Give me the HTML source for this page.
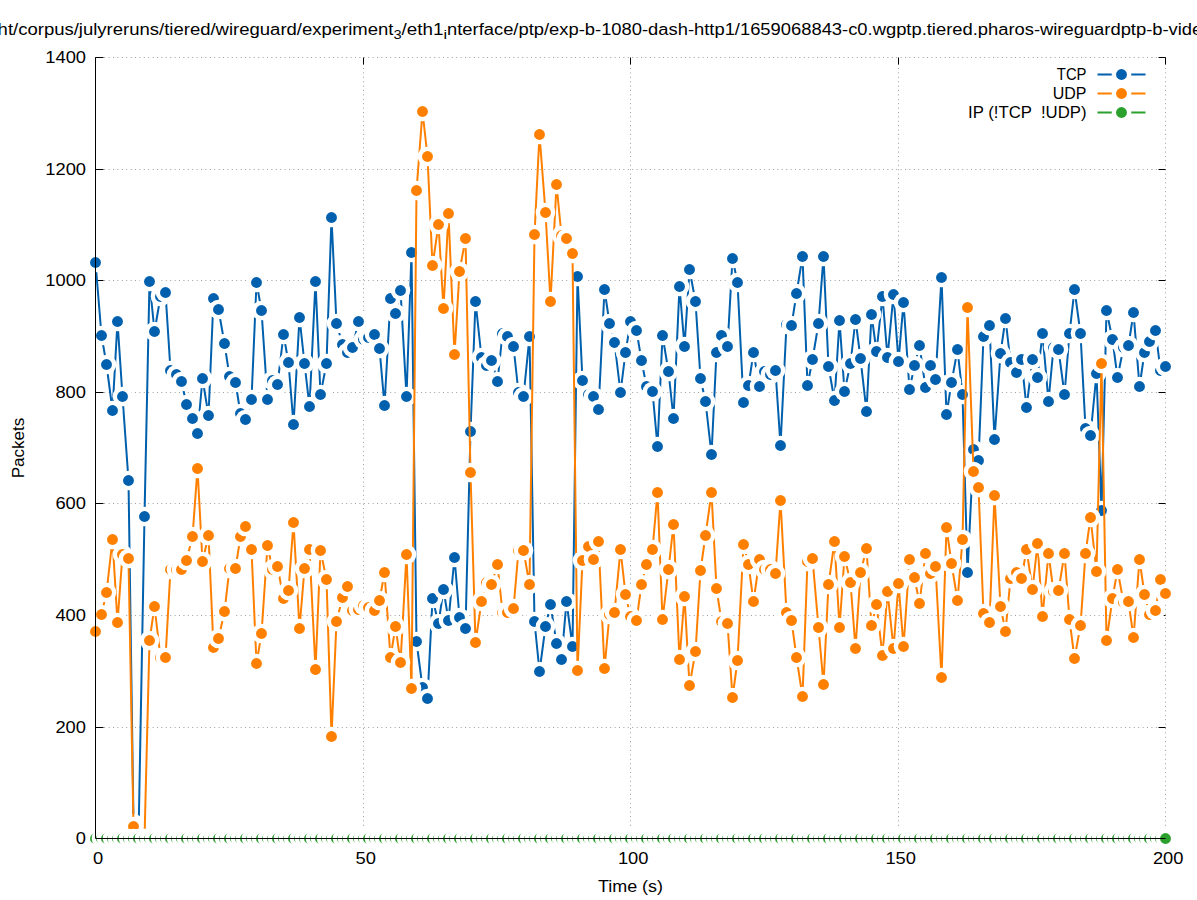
<!DOCTYPE html><html><head><meta charset="utf-8"><style>html,body{margin:0;padding:0;background:#fff;overflow:hidden}svg{display:block}</style></head><body><svg width="1197" height="900" viewBox="0 0 1197 900"><rect width="1197" height="900" fill="#fff"/><path d="M95.5 727.5H1165.5M95.5 615.5H1165.5M95.5 503.5H1165.5M95.5 392.5H1165.5M95.5 280.5H1165.5M95.5 169.5H1165.5M95.5 57.5H1165.5" stroke="#a0a0a0" stroke-width="1" stroke-dasharray="1 3.4" stroke-dashoffset="0.1" fill="none"/><path d="M363.5 838.5V57.5M630.5 838.5V57.5M898.5 838.5V57.5M1165.5 838.5V57.5" stroke="#a0a0a0" stroke-width="1" stroke-dasharray="1 3.4" stroke-dashoffset="0.5" fill="none"/><path d="M95.5 838.5h8M1165.5 838.5h-7M95.5 727.5h8M1165.5 727.5h-7M95.5 615.5h8M1165.5 615.5h-7M95.5 503.5h8M1165.5 503.5h-7M95.5 392.5h8M1165.5 392.5h-7M95.5 280.5h8M1165.5 280.5h-7M95.5 169.5h8M1165.5 169.5h-7M95.5 57.5h8M1165.5 57.5h-7M95.5 838.5v-8M95.5 57.5v7M363.5 838.5v-8M363.5 57.5v7M630.5 838.5v-8M630.5 57.5v7M898.5 838.5v-8M898.5 57.5v7M1165.5 838.5v-8M1165.5 57.5v7" stroke="#000" stroke-width="1" fill="none"/><polyline points="95.5,262.5 101.5,335.5 106.5,364.5 112.5,410.5 117.5,321.5 122.5,396.5 128.5,480.5 133.5,823.5 138.5,838.5 144.5,516.5 149.5,281.5 154.5,331.5 160.5,296.5 165.5,292.5 170.5,370.5 176.5,374.5 181.5,381.5 186.5,404.5 192.5,418.5 197.5,433.5 202.5,378.5 208.5,415.5 213.5,298.5 218.5,309.5 224.5,343.5 229.5,376.5 235.5,382.5 240.5,413.5 245.5,419.5 251.5,399.5 256.5,282.5 261.5,310.5 267.5,399.5 272.5,380.5 277.5,384.5 283.5,334.5 288.5,362.5 293.5,424.5 299.5,317.5 304.5,363.5 309.5,406.5 315.5,281.5 320.5,394.5 326.5,363.5 331.5,217.5 336.5,323.5 342.5,344.5 347.5,352.5 352.5,347.5 358.5,321.5 363.5,339.5 368.5,337.5 374.5,334.5 379.5,348.5 384.5,405.5 390.5,298.5 395.5,313.5 400.5,290.5 406.5,396.5 411.5,252.5 416.5,641.5 422.5,687.5 427.5,698.5 432.5,598.5 438.5,623.5 443.5,589.5 448.5,620.5 454.5,557.5 459.5,617.5 465.5,628.5 470.5,431.5 475.5,301.5 481.5,357.5 486.5,365.5 491.5,360.5 497.5,381.5 502.5,333.5 507.5,336.5 513.5,346.5 518.5,392.5 523.5,396.5 529.5,336.5 534.5,621.5 539.5,671.5 545.5,626.5 550.5,604.5 556.5,643.5 561.5,659.5 566.5,601.5 572.5,646.5 577.5,276.5 582.5,380.5 588.5,394.5 593.5,396.5 598.5,409.5 604.5,289.5 609.5,323.5 614.5,342.5 620.5,392.5 625.5,352.5 630.5,321.5 636.5,330.5 641.5,360.5 646.5,386.5 652.5,391.5 657.5,446.5 662.5,335.5 668.5,371.5 673.5,418.5 679.5,286.5 684.5,346.5 689.5,269.5 695.5,301.5 700.5,378.5 705.5,401.5 711.5,454.5 716.5,352.5 721.5,335.5 727.5,346.5 732.5,258.5 737.5,282.5 743.5,402.5 748.5,385.5 753.5,352.5 759.5,386.5 764.5,371.5 770.5,374.5 775.5,370.5 780.5,445.5 786.5,324.5 791.5,325.5 796.5,293.5 802.5,256.5 807.5,385.5 812.5,359.5 818.5,323.5 823.5,256.5 828.5,366.5 834.5,400.5 839.5,320.5 844.5,391.5 850.5,363.5 855.5,319.5 860.5,358.5 866.5,411.5 871.5,314.5 876.5,351.5 882.5,296.5 887.5,357.5 893.5,294.5 898.5,361.5 903.5,302.5 909.5,389.5 914.5,365.5 919.5,345.5 925.5,387.5 930.5,365.5 935.5,379.5 941.5,277.5 946.5,414.5 951.5,382.5 957.5,349.5 962.5,394.5 967.5,572.5 973.5,449.5 978.5,460.5 983.5,336.5 989.5,325.5 994.5,439.5 1000.5,353.5 1005.5,318.5 1010.5,362.5 1016.5,372.5 1021.5,359.5 1026.5,407.5 1032.5,359.5 1037.5,377.5 1042.5,333.5 1048.5,401.5 1053.5,347.5 1058.5,349.5 1064.5,394.5 1069.5,333.5 1074.5,289.5 1080.5,333.5 1085.5,428.5 1090.5,435.5 1096.5,373.5 1101.5,510.5 1106.5,310.5 1112.5,339.5 1117.5,377.5 1123.5,347.5 1128.5,345.5 1133.5,312.5 1139.5,386.5 1144.5,352.5 1149.5,341.5 1155.5,330.5 1160.5,370.5 1165.5,366.5" fill="none" stroke="#0060ad" stroke-width="2" stroke-linejoin="round"/><circle cx="95.5" cy="262.5" r="9.8" fill="#fff"/><circle cx="95.5" cy="262.5" r="5.45" fill="#0060ad"/><circle cx="101.5" cy="335.5" r="9.8" fill="#fff"/><circle cx="101.5" cy="335.5" r="5.45" fill="#0060ad"/><circle cx="106.5" cy="364.5" r="9.8" fill="#fff"/><circle cx="106.5" cy="364.5" r="5.45" fill="#0060ad"/><circle cx="112.5" cy="410.5" r="9.8" fill="#fff"/><circle cx="112.5" cy="410.5" r="5.45" fill="#0060ad"/><circle cx="117.5" cy="321.5" r="9.8" fill="#fff"/><circle cx="117.5" cy="321.5" r="5.45" fill="#0060ad"/><circle cx="122.5" cy="396.5" r="9.8" fill="#fff"/><circle cx="122.5" cy="396.5" r="5.45" fill="#0060ad"/><circle cx="128.5" cy="480.5" r="9.8" fill="#fff"/><circle cx="128.5" cy="480.5" r="5.45" fill="#0060ad"/><circle cx="133.5" cy="823.5" r="9.8" fill="#fff"/><circle cx="133.5" cy="823.5" r="5.45" fill="#0060ad"/><circle cx="138.5" cy="838.5" r="9.8" fill="#fff"/><circle cx="138.5" cy="838.5" r="5.45" fill="#0060ad"/><circle cx="144.5" cy="516.5" r="9.8" fill="#fff"/><circle cx="144.5" cy="516.5" r="5.45" fill="#0060ad"/><circle cx="149.5" cy="281.5" r="9.8" fill="#fff"/><circle cx="149.5" cy="281.5" r="5.45" fill="#0060ad"/><circle cx="154.5" cy="331.5" r="9.8" fill="#fff"/><circle cx="154.5" cy="331.5" r="5.45" fill="#0060ad"/><circle cx="160.5" cy="296.5" r="9.8" fill="#fff"/><circle cx="160.5" cy="296.5" r="5.45" fill="#0060ad"/><circle cx="165.5" cy="292.5" r="9.8" fill="#fff"/><circle cx="165.5" cy="292.5" r="5.45" fill="#0060ad"/><circle cx="170.5" cy="370.5" r="9.8" fill="#fff"/><circle cx="170.5" cy="370.5" r="5.45" fill="#0060ad"/><circle cx="176.5" cy="374.5" r="9.8" fill="#fff"/><circle cx="176.5" cy="374.5" r="5.45" fill="#0060ad"/><circle cx="181.5" cy="381.5" r="9.8" fill="#fff"/><circle cx="181.5" cy="381.5" r="5.45" fill="#0060ad"/><circle cx="186.5" cy="404.5" r="9.8" fill="#fff"/><circle cx="186.5" cy="404.5" r="5.45" fill="#0060ad"/><circle cx="192.5" cy="418.5" r="9.8" fill="#fff"/><circle cx="192.5" cy="418.5" r="5.45" fill="#0060ad"/><circle cx="197.5" cy="433.5" r="9.8" fill="#fff"/><circle cx="197.5" cy="433.5" r="5.45" fill="#0060ad"/><circle cx="202.5" cy="378.5" r="9.8" fill="#fff"/><circle cx="202.5" cy="378.5" r="5.45" fill="#0060ad"/><circle cx="208.5" cy="415.5" r="9.8" fill="#fff"/><circle cx="208.5" cy="415.5" r="5.45" fill="#0060ad"/><circle cx="213.5" cy="298.5" r="9.8" fill="#fff"/><circle cx="213.5" cy="298.5" r="5.45" fill="#0060ad"/><circle cx="218.5" cy="309.5" r="9.8" fill="#fff"/><circle cx="218.5" cy="309.5" r="5.45" fill="#0060ad"/><circle cx="224.5" cy="343.5" r="9.8" fill="#fff"/><circle cx="224.5" cy="343.5" r="5.45" fill="#0060ad"/><circle cx="229.5" cy="376.5" r="9.8" fill="#fff"/><circle cx="229.5" cy="376.5" r="5.45" fill="#0060ad"/><circle cx="235.5" cy="382.5" r="9.8" fill="#fff"/><circle cx="235.5" cy="382.5" r="5.45" fill="#0060ad"/><circle cx="240.5" cy="413.5" r="9.8" fill="#fff"/><circle cx="240.5" cy="413.5" r="5.45" fill="#0060ad"/><circle cx="245.5" cy="419.5" r="9.8" fill="#fff"/><circle cx="245.5" cy="419.5" r="5.45" fill="#0060ad"/><circle cx="251.5" cy="399.5" r="9.8" fill="#fff"/><circle cx="251.5" cy="399.5" r="5.45" fill="#0060ad"/><circle cx="256.5" cy="282.5" r="9.8" fill="#fff"/><circle cx="256.5" cy="282.5" r="5.45" fill="#0060ad"/><circle cx="261.5" cy="310.5" r="9.8" fill="#fff"/><circle cx="261.5" cy="310.5" r="5.45" fill="#0060ad"/><circle cx="267.5" cy="399.5" r="9.8" fill="#fff"/><circle cx="267.5" cy="399.5" r="5.45" fill="#0060ad"/><circle cx="272.5" cy="380.5" r="9.8" fill="#fff"/><circle cx="272.5" cy="380.5" r="5.45" fill="#0060ad"/><circle cx="277.5" cy="384.5" r="9.8" fill="#fff"/><circle cx="277.5" cy="384.5" r="5.45" fill="#0060ad"/><circle cx="283.5" cy="334.5" r="9.8" fill="#fff"/><circle cx="283.5" cy="334.5" r="5.45" fill="#0060ad"/><circle cx="288.5" cy="362.5" r="9.8" fill="#fff"/><circle cx="288.5" cy="362.5" r="5.45" fill="#0060ad"/><circle cx="293.5" cy="424.5" r="9.8" fill="#fff"/><circle cx="293.5" cy="424.5" r="5.45" fill="#0060ad"/><circle cx="299.5" cy="317.5" r="9.8" fill="#fff"/><circle cx="299.5" cy="317.5" r="5.45" fill="#0060ad"/><circle cx="304.5" cy="363.5" r="9.8" fill="#fff"/><circle cx="304.5" cy="363.5" r="5.45" fill="#0060ad"/><circle cx="309.5" cy="406.5" r="9.8" fill="#fff"/><circle cx="309.5" cy="406.5" r="5.45" fill="#0060ad"/><circle cx="315.5" cy="281.5" r="9.8" fill="#fff"/><circle cx="315.5" cy="281.5" r="5.45" fill="#0060ad"/><circle cx="320.5" cy="394.5" r="9.8" fill="#fff"/><circle cx="320.5" cy="394.5" r="5.45" fill="#0060ad"/><circle cx="326.5" cy="363.5" r="9.8" fill="#fff"/><circle cx="326.5" cy="363.5" r="5.45" fill="#0060ad"/><circle cx="331.5" cy="217.5" r="9.8" fill="#fff"/><circle cx="331.5" cy="217.5" r="5.45" fill="#0060ad"/><circle cx="336.5" cy="323.5" r="9.8" fill="#fff"/><circle cx="336.5" cy="323.5" r="5.45" fill="#0060ad"/><circle cx="342.5" cy="344.5" r="9.8" fill="#fff"/><circle cx="342.5" cy="344.5" r="5.45" fill="#0060ad"/><circle cx="347.5" cy="352.5" r="9.8" fill="#fff"/><circle cx="347.5" cy="352.5" r="5.45" fill="#0060ad"/><circle cx="352.5" cy="347.5" r="9.8" fill="#fff"/><circle cx="352.5" cy="347.5" r="5.45" fill="#0060ad"/><circle cx="358.5" cy="321.5" r="9.8" fill="#fff"/><circle cx="358.5" cy="321.5" r="5.45" fill="#0060ad"/><circle cx="363.5" cy="339.5" r="9.8" fill="#fff"/><circle cx="363.5" cy="339.5" r="5.45" fill="#0060ad"/><circle cx="368.5" cy="337.5" r="9.8" fill="#fff"/><circle cx="368.5" cy="337.5" r="5.45" fill="#0060ad"/><circle cx="374.5" cy="334.5" r="9.8" fill="#fff"/><circle cx="374.5" cy="334.5" r="5.45" fill="#0060ad"/><circle cx="379.5" cy="348.5" r="9.8" fill="#fff"/><circle cx="379.5" cy="348.5" r="5.45" fill="#0060ad"/><circle cx="384.5" cy="405.5" r="9.8" fill="#fff"/><circle cx="384.5" cy="405.5" r="5.45" fill="#0060ad"/><circle cx="390.5" cy="298.5" r="9.8" fill="#fff"/><circle cx="390.5" cy="298.5" r="5.45" fill="#0060ad"/><circle cx="395.5" cy="313.5" r="9.8" fill="#fff"/><circle cx="395.5" cy="313.5" r="5.45" fill="#0060ad"/><circle cx="400.5" cy="290.5" r="9.8" fill="#fff"/><circle cx="400.5" cy="290.5" r="5.45" fill="#0060ad"/><circle cx="406.5" cy="396.5" r="9.8" fill="#fff"/><circle cx="406.5" cy="396.5" r="5.45" fill="#0060ad"/><circle cx="411.5" cy="252.5" r="9.8" fill="#fff"/><circle cx="411.5" cy="252.5" r="5.45" fill="#0060ad"/><circle cx="416.5" cy="641.5" r="9.8" fill="#fff"/><circle cx="416.5" cy="641.5" r="5.45" fill="#0060ad"/><circle cx="422.5" cy="687.5" r="9.8" fill="#fff"/><circle cx="422.5" cy="687.5" r="5.45" fill="#0060ad"/><circle cx="427.5" cy="698.5" r="9.8" fill="#fff"/><circle cx="427.5" cy="698.5" r="5.45" fill="#0060ad"/><circle cx="432.5" cy="598.5" r="9.8" fill="#fff"/><circle cx="432.5" cy="598.5" r="5.45" fill="#0060ad"/><circle cx="438.5" cy="623.5" r="9.8" fill="#fff"/><circle cx="438.5" cy="623.5" r="5.45" fill="#0060ad"/><circle cx="443.5" cy="589.5" r="9.8" fill="#fff"/><circle cx="443.5" cy="589.5" r="5.45" fill="#0060ad"/><circle cx="448.5" cy="620.5" r="9.8" fill="#fff"/><circle cx="448.5" cy="620.5" r="5.45" fill="#0060ad"/><circle cx="454.5" cy="557.5" r="9.8" fill="#fff"/><circle cx="454.5" cy="557.5" r="5.45" fill="#0060ad"/><circle cx="459.5" cy="617.5" r="9.8" fill="#fff"/><circle cx="459.5" cy="617.5" r="5.45" fill="#0060ad"/><circle cx="465.5" cy="628.5" r="9.8" fill="#fff"/><circle cx="465.5" cy="628.5" r="5.45" fill="#0060ad"/><circle cx="470.5" cy="431.5" r="9.8" fill="#fff"/><circle cx="470.5" cy="431.5" r="5.45" fill="#0060ad"/><circle cx="475.5" cy="301.5" r="9.8" fill="#fff"/><circle cx="475.5" cy="301.5" r="5.45" fill="#0060ad"/><circle cx="481.5" cy="357.5" r="9.8" fill="#fff"/><circle cx="481.5" cy="357.5" r="5.45" fill="#0060ad"/><circle cx="486.5" cy="365.5" r="9.8" fill="#fff"/><circle cx="486.5" cy="365.5" r="5.45" fill="#0060ad"/><circle cx="491.5" cy="360.5" r="9.8" fill="#fff"/><circle cx="491.5" cy="360.5" r="5.45" fill="#0060ad"/><circle cx="497.5" cy="381.5" r="9.8" fill="#fff"/><circle cx="497.5" cy="381.5" r="5.45" fill="#0060ad"/><circle cx="502.5" cy="333.5" r="9.8" fill="#fff"/><circle cx="502.5" cy="333.5" r="5.45" fill="#0060ad"/><circle cx="507.5" cy="336.5" r="9.8" fill="#fff"/><circle cx="507.5" cy="336.5" r="5.45" fill="#0060ad"/><circle cx="513.5" cy="346.5" r="9.8" fill="#fff"/><circle cx="513.5" cy="346.5" r="5.45" fill="#0060ad"/><circle cx="518.5" cy="392.5" r="9.8" fill="#fff"/><circle cx="518.5" cy="392.5" r="5.45" fill="#0060ad"/><circle cx="523.5" cy="396.5" r="9.8" fill="#fff"/><circle cx="523.5" cy="396.5" r="5.45" fill="#0060ad"/><circle cx="529.5" cy="336.5" r="9.8" fill="#fff"/><circle cx="529.5" cy="336.5" r="5.45" fill="#0060ad"/><circle cx="534.5" cy="621.5" r="9.8" fill="#fff"/><circle cx="534.5" cy="621.5" r="5.45" fill="#0060ad"/><circle cx="539.5" cy="671.5" r="9.8" fill="#fff"/><circle cx="539.5" cy="671.5" r="5.45" fill="#0060ad"/><circle cx="545.5" cy="626.5" r="9.8" fill="#fff"/><circle cx="545.5" cy="626.5" r="5.45" fill="#0060ad"/><circle cx="550.5" cy="604.5" r="9.8" fill="#fff"/><circle cx="550.5" cy="604.5" r="5.45" fill="#0060ad"/><circle cx="556.5" cy="643.5" r="9.8" fill="#fff"/><circle cx="556.5" cy="643.5" r="5.45" fill="#0060ad"/><circle cx="561.5" cy="659.5" r="9.8" fill="#fff"/><circle cx="561.5" cy="659.5" r="5.45" fill="#0060ad"/><circle cx="566.5" cy="601.5" r="9.8" fill="#fff"/><circle cx="566.5" cy="601.5" r="5.45" fill="#0060ad"/><circle cx="572.5" cy="646.5" r="9.8" fill="#fff"/><circle cx="572.5" cy="646.5" r="5.45" fill="#0060ad"/><circle cx="577.5" cy="276.5" r="9.8" fill="#fff"/><circle cx="577.5" cy="276.5" r="5.45" fill="#0060ad"/><circle cx="582.5" cy="380.5" r="9.8" fill="#fff"/><circle cx="582.5" cy="380.5" r="5.45" fill="#0060ad"/><circle cx="588.5" cy="394.5" r="9.8" fill="#fff"/><circle cx="588.5" cy="394.5" r="5.45" fill="#0060ad"/><circle cx="593.5" cy="396.5" r="9.8" fill="#fff"/><circle cx="593.5" cy="396.5" r="5.45" fill="#0060ad"/><circle cx="598.5" cy="409.5" r="9.8" fill="#fff"/><circle cx="598.5" cy="409.5" r="5.45" fill="#0060ad"/><circle cx="604.5" cy="289.5" r="9.8" fill="#fff"/><circle cx="604.5" cy="289.5" r="5.45" fill="#0060ad"/><circle cx="609.5" cy="323.5" r="9.8" fill="#fff"/><circle cx="609.5" cy="323.5" r="5.45" fill="#0060ad"/><circle cx="614.5" cy="342.5" r="9.8" fill="#fff"/><circle cx="614.5" cy="342.5" r="5.45" fill="#0060ad"/><circle cx="620.5" cy="392.5" r="9.8" fill="#fff"/><circle cx="620.5" cy="392.5" r="5.45" fill="#0060ad"/><circle cx="625.5" cy="352.5" r="9.8" fill="#fff"/><circle cx="625.5" cy="352.5" r="5.45" fill="#0060ad"/><circle cx="630.5" cy="321.5" r="9.8" fill="#fff"/><circle cx="630.5" cy="321.5" r="5.45" fill="#0060ad"/><circle cx="636.5" cy="330.5" r="9.8" fill="#fff"/><circle cx="636.5" cy="330.5" r="5.45" fill="#0060ad"/><circle cx="641.5" cy="360.5" r="9.8" fill="#fff"/><circle cx="641.5" cy="360.5" r="5.45" fill="#0060ad"/><circle cx="646.5" cy="386.5" r="9.8" fill="#fff"/><circle cx="646.5" cy="386.5" r="5.45" fill="#0060ad"/><circle cx="652.5" cy="391.5" r="9.8" fill="#fff"/><circle cx="652.5" cy="391.5" r="5.45" fill="#0060ad"/><circle cx="657.5" cy="446.5" r="9.8" fill="#fff"/><circle cx="657.5" cy="446.5" r="5.45" fill="#0060ad"/><circle cx="662.5" cy="335.5" r="9.8" fill="#fff"/><circle cx="662.5" cy="335.5" r="5.45" fill="#0060ad"/><circle cx="668.5" cy="371.5" r="9.8" fill="#fff"/><circle cx="668.5" cy="371.5" r="5.45" fill="#0060ad"/><circle cx="673.5" cy="418.5" r="9.8" fill="#fff"/><circle cx="673.5" cy="418.5" r="5.45" fill="#0060ad"/><circle cx="679.5" cy="286.5" r="9.8" fill="#fff"/><circle cx="679.5" cy="286.5" r="5.45" fill="#0060ad"/><circle cx="684.5" cy="346.5" r="9.8" fill="#fff"/><circle cx="684.5" cy="346.5" r="5.45" fill="#0060ad"/><circle cx="689.5" cy="269.5" r="9.8" fill="#fff"/><circle cx="689.5" cy="269.5" r="5.45" fill="#0060ad"/><circle cx="695.5" cy="301.5" r="9.8" fill="#fff"/><circle cx="695.5" cy="301.5" r="5.45" fill="#0060ad"/><circle cx="700.5" cy="378.5" r="9.8" fill="#fff"/><circle cx="700.5" cy="378.5" r="5.45" fill="#0060ad"/><circle cx="705.5" cy="401.5" r="9.8" fill="#fff"/><circle cx="705.5" cy="401.5" r="5.45" fill="#0060ad"/><circle cx="711.5" cy="454.5" r="9.8" fill="#fff"/><circle cx="711.5" cy="454.5" r="5.45" fill="#0060ad"/><circle cx="716.5" cy="352.5" r="9.8" fill="#fff"/><circle cx="716.5" cy="352.5" r="5.45" fill="#0060ad"/><circle cx="721.5" cy="335.5" r="9.8" fill="#fff"/><circle cx="721.5" cy="335.5" r="5.45" fill="#0060ad"/><circle cx="727.5" cy="346.5" r="9.8" fill="#fff"/><circle cx="727.5" cy="346.5" r="5.45" fill="#0060ad"/><circle cx="732.5" cy="258.5" r="9.8" fill="#fff"/><circle cx="732.5" cy="258.5" r="5.45" fill="#0060ad"/><circle cx="737.5" cy="282.5" r="9.8" fill="#fff"/><circle cx="737.5" cy="282.5" r="5.45" fill="#0060ad"/><circle cx="743.5" cy="402.5" r="9.8" fill="#fff"/><circle cx="743.5" cy="402.5" r="5.45" fill="#0060ad"/><circle cx="748.5" cy="385.5" r="9.8" fill="#fff"/><circle cx="748.5" cy="385.5" r="5.45" fill="#0060ad"/><circle cx="753.5" cy="352.5" r="9.8" fill="#fff"/><circle cx="753.5" cy="352.5" r="5.45" fill="#0060ad"/><circle cx="759.5" cy="386.5" r="9.8" fill="#fff"/><circle cx="759.5" cy="386.5" r="5.45" fill="#0060ad"/><circle cx="764.5" cy="371.5" r="9.8" fill="#fff"/><circle cx="764.5" cy="371.5" r="5.45" fill="#0060ad"/><circle cx="770.5" cy="374.5" r="9.8" fill="#fff"/><circle cx="770.5" cy="374.5" r="5.45" fill="#0060ad"/><circle cx="775.5" cy="370.5" r="9.8" fill="#fff"/><circle cx="775.5" cy="370.5" r="5.45" fill="#0060ad"/><circle cx="780.5" cy="445.5" r="9.8" fill="#fff"/><circle cx="780.5" cy="445.5" r="5.45" fill="#0060ad"/><circle cx="786.5" cy="324.5" r="9.8" fill="#fff"/><circle cx="786.5" cy="324.5" r="5.45" fill="#0060ad"/><circle cx="791.5" cy="325.5" r="9.8" fill="#fff"/><circle cx="791.5" cy="325.5" r="5.45" fill="#0060ad"/><circle cx="796.5" cy="293.5" r="9.8" fill="#fff"/><circle cx="796.5" cy="293.5" r="5.45" fill="#0060ad"/><circle cx="802.5" cy="256.5" r="9.8" fill="#fff"/><circle cx="802.5" cy="256.5" r="5.45" fill="#0060ad"/><circle cx="807.5" cy="385.5" r="9.8" fill="#fff"/><circle cx="807.5" cy="385.5" r="5.45" fill="#0060ad"/><circle cx="812.5" cy="359.5" r="9.8" fill="#fff"/><circle cx="812.5" cy="359.5" r="5.45" fill="#0060ad"/><circle cx="818.5" cy="323.5" r="9.8" fill="#fff"/><circle cx="818.5" cy="323.5" r="5.45" fill="#0060ad"/><circle cx="823.5" cy="256.5" r="9.8" fill="#fff"/><circle cx="823.5" cy="256.5" r="5.45" fill="#0060ad"/><circle cx="828.5" cy="366.5" r="9.8" fill="#fff"/><circle cx="828.5" cy="366.5" r="5.45" fill="#0060ad"/><circle cx="834.5" cy="400.5" r="9.8" fill="#fff"/><circle cx="834.5" cy="400.5" r="5.45" fill="#0060ad"/><circle cx="839.5" cy="320.5" r="9.8" fill="#fff"/><circle cx="839.5" cy="320.5" r="5.45" fill="#0060ad"/><circle cx="844.5" cy="391.5" r="9.8" fill="#fff"/><circle cx="844.5" cy="391.5" r="5.45" fill="#0060ad"/><circle cx="850.5" cy="363.5" r="9.8" fill="#fff"/><circle cx="850.5" cy="363.5" r="5.45" fill="#0060ad"/><circle cx="855.5" cy="319.5" r="9.8" fill="#fff"/><circle cx="855.5" cy="319.5" r="5.45" fill="#0060ad"/><circle cx="860.5" cy="358.5" r="9.8" fill="#fff"/><circle cx="860.5" cy="358.5" r="5.45" fill="#0060ad"/><circle cx="866.5" cy="411.5" r="9.8" fill="#fff"/><circle cx="866.5" cy="411.5" r="5.45" fill="#0060ad"/><circle cx="871.5" cy="314.5" r="9.8" fill="#fff"/><circle cx="871.5" cy="314.5" r="5.45" fill="#0060ad"/><circle cx="876.5" cy="351.5" r="9.8" fill="#fff"/><circle cx="876.5" cy="351.5" r="5.45" fill="#0060ad"/><circle cx="882.5" cy="296.5" r="9.8" fill="#fff"/><circle cx="882.5" cy="296.5" r="5.45" fill="#0060ad"/><circle cx="887.5" cy="357.5" r="9.8" fill="#fff"/><circle cx="887.5" cy="357.5" r="5.45" fill="#0060ad"/><circle cx="893.5" cy="294.5" r="9.8" fill="#fff"/><circle cx="893.5" cy="294.5" r="5.45" fill="#0060ad"/><circle cx="898.5" cy="361.5" r="9.8" fill="#fff"/><circle cx="898.5" cy="361.5" r="5.45" fill="#0060ad"/><circle cx="903.5" cy="302.5" r="9.8" fill="#fff"/><circle cx="903.5" cy="302.5" r="5.45" fill="#0060ad"/><circle cx="909.5" cy="389.5" r="9.8" fill="#fff"/><circle cx="909.5" cy="389.5" r="5.45" fill="#0060ad"/><circle cx="914.5" cy="365.5" r="9.8" fill="#fff"/><circle cx="914.5" cy="365.5" r="5.45" fill="#0060ad"/><circle cx="919.5" cy="345.5" r="9.8" fill="#fff"/><circle cx="919.5" cy="345.5" r="5.45" fill="#0060ad"/><circle cx="925.5" cy="387.5" r="9.8" fill="#fff"/><circle cx="925.5" cy="387.5" r="5.45" fill="#0060ad"/><circle cx="930.5" cy="365.5" r="9.8" fill="#fff"/><circle cx="930.5" cy="365.5" r="5.45" fill="#0060ad"/><circle cx="935.5" cy="379.5" r="9.8" fill="#fff"/><circle cx="935.5" cy="379.5" r="5.45" fill="#0060ad"/><circle cx="941.5" cy="277.5" r="9.8" fill="#fff"/><circle cx="941.5" cy="277.5" r="5.45" fill="#0060ad"/><circle cx="946.5" cy="414.5" r="9.8" fill="#fff"/><circle cx="946.5" cy="414.5" r="5.45" fill="#0060ad"/><circle cx="951.5" cy="382.5" r="9.8" fill="#fff"/><circle cx="951.5" cy="382.5" r="5.45" fill="#0060ad"/><circle cx="957.5" cy="349.5" r="9.8" fill="#fff"/><circle cx="957.5" cy="349.5" r="5.45" fill="#0060ad"/><circle cx="962.5" cy="394.5" r="9.8" fill="#fff"/><circle cx="962.5" cy="394.5" r="5.45" fill="#0060ad"/><circle cx="967.5" cy="572.5" r="9.8" fill="#fff"/><circle cx="967.5" cy="572.5" r="5.45" fill="#0060ad"/><circle cx="973.5" cy="449.5" r="9.8" fill="#fff"/><circle cx="973.5" cy="449.5" r="5.45" fill="#0060ad"/><circle cx="978.5" cy="460.5" r="9.8" fill="#fff"/><circle cx="978.5" cy="460.5" r="5.45" fill="#0060ad"/><circle cx="983.5" cy="336.5" r="9.8" fill="#fff"/><circle cx="983.5" cy="336.5" r="5.45" fill="#0060ad"/><circle cx="989.5" cy="325.5" r="9.8" fill="#fff"/><circle cx="989.5" cy="325.5" r="5.45" fill="#0060ad"/><circle cx="994.5" cy="439.5" r="9.8" fill="#fff"/><circle cx="994.5" cy="439.5" r="5.45" fill="#0060ad"/><circle cx="1000.5" cy="353.5" r="9.8" fill="#fff"/><circle cx="1000.5" cy="353.5" r="5.45" fill="#0060ad"/><circle cx="1005.5" cy="318.5" r="9.8" fill="#fff"/><circle cx="1005.5" cy="318.5" r="5.45" fill="#0060ad"/><circle cx="1010.5" cy="362.5" r="9.8" fill="#fff"/><circle cx="1010.5" cy="362.5" r="5.45" fill="#0060ad"/><circle cx="1016.5" cy="372.5" r="9.8" fill="#fff"/><circle cx="1016.5" cy="372.5" r="5.45" fill="#0060ad"/><circle cx="1021.5" cy="359.5" r="9.8" fill="#fff"/><circle cx="1021.5" cy="359.5" r="5.45" fill="#0060ad"/><circle cx="1026.5" cy="407.5" r="9.8" fill="#fff"/><circle cx="1026.5" cy="407.5" r="5.45" fill="#0060ad"/><circle cx="1032.5" cy="359.5" r="9.8" fill="#fff"/><circle cx="1032.5" cy="359.5" r="5.45" fill="#0060ad"/><circle cx="1037.5" cy="377.5" r="9.8" fill="#fff"/><circle cx="1037.5" cy="377.5" r="5.45" fill="#0060ad"/><circle cx="1042.5" cy="333.5" r="9.8" fill="#fff"/><circle cx="1042.5" cy="333.5" r="5.45" fill="#0060ad"/><circle cx="1048.5" cy="401.5" r="9.8" fill="#fff"/><circle cx="1048.5" cy="401.5" r="5.45" fill="#0060ad"/><circle cx="1053.5" cy="347.5" r="9.8" fill="#fff"/><circle cx="1053.5" cy="347.5" r="5.45" fill="#0060ad"/><circle cx="1058.5" cy="349.5" r="9.8" fill="#fff"/><circle cx="1058.5" cy="349.5" r="5.45" fill="#0060ad"/><circle cx="1064.5" cy="394.5" r="9.8" fill="#fff"/><circle cx="1064.5" cy="394.5" r="5.45" fill="#0060ad"/><circle cx="1069.5" cy="333.5" r="9.8" fill="#fff"/><circle cx="1069.5" cy="333.5" r="5.45" fill="#0060ad"/><circle cx="1074.5" cy="289.5" r="9.8" fill="#fff"/><circle cx="1074.5" cy="289.5" r="5.45" fill="#0060ad"/><circle cx="1080.5" cy="333.5" r="9.8" fill="#fff"/><circle cx="1080.5" cy="333.5" r="5.45" fill="#0060ad"/><circle cx="1085.5" cy="428.5" r="9.8" fill="#fff"/><circle cx="1085.5" cy="428.5" r="5.45" fill="#0060ad"/><circle cx="1090.5" cy="435.5" r="9.8" fill="#fff"/><circle cx="1090.5" cy="435.5" r="5.45" fill="#0060ad"/><circle cx="1096.5" cy="373.5" r="9.8" fill="#fff"/><circle cx="1096.5" cy="373.5" r="5.45" fill="#0060ad"/><circle cx="1101.5" cy="510.5" r="9.8" fill="#fff"/><circle cx="1101.5" cy="510.5" r="5.45" fill="#0060ad"/><circle cx="1106.5" cy="310.5" r="9.8" fill="#fff"/><circle cx="1106.5" cy="310.5" r="5.45" fill="#0060ad"/><circle cx="1112.5" cy="339.5" r="9.8" fill="#fff"/><circle cx="1112.5" cy="339.5" r="5.45" fill="#0060ad"/><circle cx="1117.5" cy="377.5" r="9.8" fill="#fff"/><circle cx="1117.5" cy="377.5" r="5.45" fill="#0060ad"/><circle cx="1123.5" cy="347.5" r="9.8" fill="#fff"/><circle cx="1123.5" cy="347.5" r="5.45" fill="#0060ad"/><circle cx="1128.5" cy="345.5" r="9.8" fill="#fff"/><circle cx="1128.5" cy="345.5" r="5.45" fill="#0060ad"/><circle cx="1133.5" cy="312.5" r="9.8" fill="#fff"/><circle cx="1133.5" cy="312.5" r="5.45" fill="#0060ad"/><circle cx="1139.5" cy="386.5" r="9.8" fill="#fff"/><circle cx="1139.5" cy="386.5" r="5.45" fill="#0060ad"/><circle cx="1144.5" cy="352.5" r="9.8" fill="#fff"/><circle cx="1144.5" cy="352.5" r="5.45" fill="#0060ad"/><circle cx="1149.5" cy="341.5" r="9.8" fill="#fff"/><circle cx="1149.5" cy="341.5" r="5.45" fill="#0060ad"/><circle cx="1155.5" cy="330.5" r="9.8" fill="#fff"/><circle cx="1155.5" cy="330.5" r="5.45" fill="#0060ad"/><circle cx="1160.5" cy="370.5" r="9.8" fill="#fff"/><circle cx="1160.5" cy="370.5" r="5.45" fill="#0060ad"/><circle cx="1165.5" cy="366.5" r="9.8" fill="#fff"/><circle cx="1165.5" cy="366.5" r="5.45" fill="#0060ad"/><polyline points="95.5,631.5 101.5,614.5 106.5,592.5 112.5,539.5 117.5,622.5 122.5,554.5 128.5,558.5 133.5,826.5 138.5,838.5 144.5,838.5 149.5,640.5 154.5,606.5 160.5,657.5 165.5,657.5 170.5,569.5 176.5,569.5 181.5,569.5 186.5,560.5 192.5,536.5 197.5,468.5 202.5,561.5 208.5,535.5 213.5,647.5 218.5,638.5 224.5,611.5 229.5,568.5 235.5,568.5 240.5,536.5 245.5,526.5 251.5,549.5 256.5,663.5 261.5,633.5 267.5,545.5 272.5,569.5 277.5,566.5 283.5,598.5 288.5,590.5 293.5,522.5 299.5,628.5 304.5,568.5 309.5,549.5 315.5,669.5 320.5,550.5 326.5,579.5 331.5,736.5 336.5,621.5 342.5,597.5 347.5,586.5 352.5,610.5 358.5,609.5 363.5,605.5 368.5,607.5 374.5,610.5 379.5,600.5 384.5,572.5 390.5,657.5 395.5,626.5 400.5,662.5 406.5,554.5 411.5,688.5 416.5,190.5 422.5,111.5 427.5,156.5 432.5,265.5 438.5,224.5 443.5,308.5 448.5,213.5 454.5,354.5 459.5,271.5 465.5,238.5 470.5,472.5 475.5,642.5 481.5,601.5 486.5,582.5 491.5,584.5 497.5,564.5 502.5,612.5 507.5,612.5 513.5,608.5 518.5,550.5 523.5,550.5 529.5,584.5 534.5,234.5 539.5,134.5 545.5,212.5 550.5,301.5 556.5,184.5 561.5,235.5 566.5,238.5 572.5,253.5 577.5,670.5 582.5,560.5 588.5,546.5 593.5,559.5 598.5,541.5 604.5,668.5 609.5,614.5 614.5,612.5 620.5,549.5 625.5,594.5 630.5,616.5 636.5,620.5 641.5,584.5 646.5,564.5 652.5,549.5 657.5,492.5 662.5,619.5 668.5,569.5 673.5,524.5 679.5,659.5 684.5,596.5 689.5,685.5 695.5,651.5 700.5,570.5 705.5,535.5 711.5,492.5 716.5,588.5 721.5,621.5 727.5,623.5 732.5,697.5 737.5,660.5 743.5,544.5 748.5,564.5 753.5,601.5 759.5,559.5 764.5,569.5 770.5,569.5 775.5,573.5 780.5,500.5 786.5,612.5 791.5,620.5 796.5,657.5 802.5,696.5 807.5,561.5 812.5,558.5 818.5,627.5 823.5,684.5 828.5,584.5 834.5,541.5 839.5,627.5 844.5,556.5 850.5,582.5 855.5,648.5 860.5,572.5 866.5,548.5 871.5,625.5 876.5,604.5 882.5,655.5 887.5,591.5 893.5,648.5 898.5,583.5 903.5,646.5 909.5,559.5 914.5,577.5 919.5,603.5 925.5,553.5 930.5,573.5 935.5,566.5 941.5,677.5 946.5,527.5 951.5,563.5 957.5,600.5 962.5,539.5 967.5,307.5 973.5,471.5 978.5,487.5 983.5,613.5 989.5,622.5 994.5,495.5 1000.5,606.5 1005.5,631.5 1010.5,578.5 1016.5,572.5 1021.5,578.5 1026.5,549.5 1032.5,589.5 1037.5,543.5 1042.5,616.5 1048.5,553.5 1053.5,591.5 1058.5,590.5 1064.5,553.5 1069.5,619.5 1074.5,658.5 1080.5,625.5 1085.5,553.5 1090.5,517.5 1096.5,571.5 1101.5,363.5 1106.5,640.5 1112.5,598.5 1117.5,569.5 1123.5,602.5 1128.5,601.5 1133.5,637.5 1139.5,559.5 1144.5,594.5 1149.5,614.5 1155.5,610.5 1160.5,579.5 1165.5,593.5" fill="none" stroke="#ff8000" stroke-width="2" stroke-linejoin="round"/><circle cx="95.5" cy="631.5" r="9.8" fill="#fff"/><circle cx="95.5" cy="631.5" r="5.45" fill="#ff8000"/><circle cx="101.5" cy="614.5" r="9.8" fill="#fff"/><circle cx="101.5" cy="614.5" r="5.45" fill="#ff8000"/><circle cx="106.5" cy="592.5" r="9.8" fill="#fff"/><circle cx="106.5" cy="592.5" r="5.45" fill="#ff8000"/><circle cx="112.5" cy="539.5" r="9.8" fill="#fff"/><circle cx="112.5" cy="539.5" r="5.45" fill="#ff8000"/><circle cx="117.5" cy="622.5" r="9.8" fill="#fff"/><circle cx="117.5" cy="622.5" r="5.45" fill="#ff8000"/><circle cx="122.5" cy="554.5" r="9.8" fill="#fff"/><circle cx="122.5" cy="554.5" r="5.45" fill="#ff8000"/><circle cx="128.5" cy="558.5" r="9.8" fill="#fff"/><circle cx="128.5" cy="558.5" r="5.45" fill="#ff8000"/><circle cx="133.5" cy="826.5" r="9.8" fill="#fff"/><circle cx="133.5" cy="826.5" r="5.45" fill="#ff8000"/><circle cx="138.5" cy="838.5" r="9.8" fill="#fff"/><circle cx="138.5" cy="838.5" r="5.45" fill="#ff8000"/><circle cx="144.5" cy="838.5" r="9.8" fill="#fff"/><circle cx="144.5" cy="838.5" r="5.45" fill="#ff8000"/><circle cx="149.5" cy="640.5" r="9.8" fill="#fff"/><circle cx="149.5" cy="640.5" r="5.45" fill="#ff8000"/><circle cx="154.5" cy="606.5" r="9.8" fill="#fff"/><circle cx="154.5" cy="606.5" r="5.45" fill="#ff8000"/><circle cx="160.5" cy="657.5" r="9.8" fill="#fff"/><circle cx="160.5" cy="657.5" r="5.45" fill="#ff8000"/><circle cx="165.5" cy="657.5" r="9.8" fill="#fff"/><circle cx="165.5" cy="657.5" r="5.45" fill="#ff8000"/><circle cx="170.5" cy="569.5" r="9.8" fill="#fff"/><circle cx="170.5" cy="569.5" r="5.45" fill="#ff8000"/><circle cx="176.5" cy="569.5" r="9.8" fill="#fff"/><circle cx="176.5" cy="569.5" r="5.45" fill="#ff8000"/><circle cx="181.5" cy="569.5" r="9.8" fill="#fff"/><circle cx="181.5" cy="569.5" r="5.45" fill="#ff8000"/><circle cx="186.5" cy="560.5" r="9.8" fill="#fff"/><circle cx="186.5" cy="560.5" r="5.45" fill="#ff8000"/><circle cx="192.5" cy="536.5" r="9.8" fill="#fff"/><circle cx="192.5" cy="536.5" r="5.45" fill="#ff8000"/><circle cx="197.5" cy="468.5" r="9.8" fill="#fff"/><circle cx="197.5" cy="468.5" r="5.45" fill="#ff8000"/><circle cx="202.5" cy="561.5" r="9.8" fill="#fff"/><circle cx="202.5" cy="561.5" r="5.45" fill="#ff8000"/><circle cx="208.5" cy="535.5" r="9.8" fill="#fff"/><circle cx="208.5" cy="535.5" r="5.45" fill="#ff8000"/><circle cx="213.5" cy="647.5" r="9.8" fill="#fff"/><circle cx="213.5" cy="647.5" r="5.45" fill="#ff8000"/><circle cx="218.5" cy="638.5" r="9.8" fill="#fff"/><circle cx="218.5" cy="638.5" r="5.45" fill="#ff8000"/><circle cx="224.5" cy="611.5" r="9.8" fill="#fff"/><circle cx="224.5" cy="611.5" r="5.45" fill="#ff8000"/><circle cx="229.5" cy="568.5" r="9.8" fill="#fff"/><circle cx="229.5" cy="568.5" r="5.45" fill="#ff8000"/><circle cx="235.5" cy="568.5" r="9.8" fill="#fff"/><circle cx="235.5" cy="568.5" r="5.45" fill="#ff8000"/><circle cx="240.5" cy="536.5" r="9.8" fill="#fff"/><circle cx="240.5" cy="536.5" r="5.45" fill="#ff8000"/><circle cx="245.5" cy="526.5" r="9.8" fill="#fff"/><circle cx="245.5" cy="526.5" r="5.45" fill="#ff8000"/><circle cx="251.5" cy="549.5" r="9.8" fill="#fff"/><circle cx="251.5" cy="549.5" r="5.45" fill="#ff8000"/><circle cx="256.5" cy="663.5" r="9.8" fill="#fff"/><circle cx="256.5" cy="663.5" r="5.45" fill="#ff8000"/><circle cx="261.5" cy="633.5" r="9.8" fill="#fff"/><circle cx="261.5" cy="633.5" r="5.45" fill="#ff8000"/><circle cx="267.5" cy="545.5" r="9.8" fill="#fff"/><circle cx="267.5" cy="545.5" r="5.45" fill="#ff8000"/><circle cx="272.5" cy="569.5" r="9.8" fill="#fff"/><circle cx="272.5" cy="569.5" r="5.45" fill="#ff8000"/><circle cx="277.5" cy="566.5" r="9.8" fill="#fff"/><circle cx="277.5" cy="566.5" r="5.45" fill="#ff8000"/><circle cx="283.5" cy="598.5" r="9.8" fill="#fff"/><circle cx="283.5" cy="598.5" r="5.45" fill="#ff8000"/><circle cx="288.5" cy="590.5" r="9.8" fill="#fff"/><circle cx="288.5" cy="590.5" r="5.45" fill="#ff8000"/><circle cx="293.5" cy="522.5" r="9.8" fill="#fff"/><circle cx="293.5" cy="522.5" r="5.45" fill="#ff8000"/><circle cx="299.5" cy="628.5" r="9.8" fill="#fff"/><circle cx="299.5" cy="628.5" r="5.45" fill="#ff8000"/><circle cx="304.5" cy="568.5" r="9.8" fill="#fff"/><circle cx="304.5" cy="568.5" r="5.45" fill="#ff8000"/><circle cx="309.5" cy="549.5" r="9.8" fill="#fff"/><circle cx="309.5" cy="549.5" r="5.45" fill="#ff8000"/><circle cx="315.5" cy="669.5" r="9.8" fill="#fff"/><circle cx="315.5" cy="669.5" r="5.45" fill="#ff8000"/><circle cx="320.5" cy="550.5" r="9.8" fill="#fff"/><circle cx="320.5" cy="550.5" r="5.45" fill="#ff8000"/><circle cx="326.5" cy="579.5" r="9.8" fill="#fff"/><circle cx="326.5" cy="579.5" r="5.45" fill="#ff8000"/><circle cx="331.5" cy="736.5" r="9.8" fill="#fff"/><circle cx="331.5" cy="736.5" r="5.45" fill="#ff8000"/><circle cx="336.5" cy="621.5" r="9.8" fill="#fff"/><circle cx="336.5" cy="621.5" r="5.45" fill="#ff8000"/><circle cx="342.5" cy="597.5" r="9.8" fill="#fff"/><circle cx="342.5" cy="597.5" r="5.45" fill="#ff8000"/><circle cx="347.5" cy="586.5" r="9.8" fill="#fff"/><circle cx="347.5" cy="586.5" r="5.45" fill="#ff8000"/><circle cx="352.5" cy="610.5" r="9.8" fill="#fff"/><circle cx="352.5" cy="610.5" r="5.45" fill="#ff8000"/><circle cx="358.5" cy="609.5" r="9.8" fill="#fff"/><circle cx="358.5" cy="609.5" r="5.45" fill="#ff8000"/><circle cx="363.5" cy="605.5" r="9.8" fill="#fff"/><circle cx="363.5" cy="605.5" r="5.45" fill="#ff8000"/><circle cx="368.5" cy="607.5" r="9.8" fill="#fff"/><circle cx="368.5" cy="607.5" r="5.45" fill="#ff8000"/><circle cx="374.5" cy="610.5" r="9.8" fill="#fff"/><circle cx="374.5" cy="610.5" r="5.45" fill="#ff8000"/><circle cx="379.5" cy="600.5" r="9.8" fill="#fff"/><circle cx="379.5" cy="600.5" r="5.45" fill="#ff8000"/><circle cx="384.5" cy="572.5" r="9.8" fill="#fff"/><circle cx="384.5" cy="572.5" r="5.45" fill="#ff8000"/><circle cx="390.5" cy="657.5" r="9.8" fill="#fff"/><circle cx="390.5" cy="657.5" r="5.45" fill="#ff8000"/><circle cx="395.5" cy="626.5" r="9.8" fill="#fff"/><circle cx="395.5" cy="626.5" r="5.45" fill="#ff8000"/><circle cx="400.5" cy="662.5" r="9.8" fill="#fff"/><circle cx="400.5" cy="662.5" r="5.45" fill="#ff8000"/><circle cx="406.5" cy="554.5" r="9.8" fill="#fff"/><circle cx="406.5" cy="554.5" r="5.45" fill="#ff8000"/><circle cx="411.5" cy="688.5" r="9.8" fill="#fff"/><circle cx="411.5" cy="688.5" r="5.45" fill="#ff8000"/><circle cx="416.5" cy="190.5" r="9.8" fill="#fff"/><circle cx="416.5" cy="190.5" r="5.45" fill="#ff8000"/><circle cx="422.5" cy="111.5" r="9.8" fill="#fff"/><circle cx="422.5" cy="111.5" r="5.45" fill="#ff8000"/><circle cx="427.5" cy="156.5" r="9.8" fill="#fff"/><circle cx="427.5" cy="156.5" r="5.45" fill="#ff8000"/><circle cx="432.5" cy="265.5" r="9.8" fill="#fff"/><circle cx="432.5" cy="265.5" r="5.45" fill="#ff8000"/><circle cx="438.5" cy="224.5" r="9.8" fill="#fff"/><circle cx="438.5" cy="224.5" r="5.45" fill="#ff8000"/><circle cx="443.5" cy="308.5" r="9.8" fill="#fff"/><circle cx="443.5" cy="308.5" r="5.45" fill="#ff8000"/><circle cx="448.5" cy="213.5" r="9.8" fill="#fff"/><circle cx="448.5" cy="213.5" r="5.45" fill="#ff8000"/><circle cx="454.5" cy="354.5" r="9.8" fill="#fff"/><circle cx="454.5" cy="354.5" r="5.45" fill="#ff8000"/><circle cx="459.5" cy="271.5" r="9.8" fill="#fff"/><circle cx="459.5" cy="271.5" r="5.45" fill="#ff8000"/><circle cx="465.5" cy="238.5" r="9.8" fill="#fff"/><circle cx="465.5" cy="238.5" r="5.45" fill="#ff8000"/><circle cx="470.5" cy="472.5" r="9.8" fill="#fff"/><circle cx="470.5" cy="472.5" r="5.45" fill="#ff8000"/><circle cx="475.5" cy="642.5" r="9.8" fill="#fff"/><circle cx="475.5" cy="642.5" r="5.45" fill="#ff8000"/><circle cx="481.5" cy="601.5" r="9.8" fill="#fff"/><circle cx="481.5" cy="601.5" r="5.45" fill="#ff8000"/><circle cx="486.5" cy="582.5" r="9.8" fill="#fff"/><circle cx="486.5" cy="582.5" r="5.45" fill="#ff8000"/><circle cx="491.5" cy="584.5" r="9.8" fill="#fff"/><circle cx="491.5" cy="584.5" r="5.45" fill="#ff8000"/><circle cx="497.5" cy="564.5" r="9.8" fill="#fff"/><circle cx="497.5" cy="564.5" r="5.45" fill="#ff8000"/><circle cx="502.5" cy="612.5" r="9.8" fill="#fff"/><circle cx="502.5" cy="612.5" r="5.45" fill="#ff8000"/><circle cx="507.5" cy="612.5" r="9.8" fill="#fff"/><circle cx="507.5" cy="612.5" r="5.45" fill="#ff8000"/><circle cx="513.5" cy="608.5" r="9.8" fill="#fff"/><circle cx="513.5" cy="608.5" r="5.45" fill="#ff8000"/><circle cx="518.5" cy="550.5" r="9.8" fill="#fff"/><circle cx="518.5" cy="550.5" r="5.45" fill="#ff8000"/><circle cx="523.5" cy="550.5" r="9.8" fill="#fff"/><circle cx="523.5" cy="550.5" r="5.45" fill="#ff8000"/><circle cx="529.5" cy="584.5" r="9.8" fill="#fff"/><circle cx="529.5" cy="584.5" r="5.45" fill="#ff8000"/><circle cx="534.5" cy="234.5" r="9.8" fill="#fff"/><circle cx="534.5" cy="234.5" r="5.45" fill="#ff8000"/><circle cx="539.5" cy="134.5" r="9.8" fill="#fff"/><circle cx="539.5" cy="134.5" r="5.45" fill="#ff8000"/><circle cx="545.5" cy="212.5" r="9.8" fill="#fff"/><circle cx="545.5" cy="212.5" r="5.45" fill="#ff8000"/><circle cx="550.5" cy="301.5" r="9.8" fill="#fff"/><circle cx="550.5" cy="301.5" r="5.45" fill="#ff8000"/><circle cx="556.5" cy="184.5" r="9.8" fill="#fff"/><circle cx="556.5" cy="184.5" r="5.45" fill="#ff8000"/><circle cx="561.5" cy="235.5" r="9.8" fill="#fff"/><circle cx="561.5" cy="235.5" r="5.45" fill="#ff8000"/><circle cx="566.5" cy="238.5" r="9.8" fill="#fff"/><circle cx="566.5" cy="238.5" r="5.45" fill="#ff8000"/><circle cx="572.5" cy="253.5" r="9.8" fill="#fff"/><circle cx="572.5" cy="253.5" r="5.45" fill="#ff8000"/><circle cx="577.5" cy="670.5" r="9.8" fill="#fff"/><circle cx="577.5" cy="670.5" r="5.45" fill="#ff8000"/><circle cx="582.5" cy="560.5" r="9.8" fill="#fff"/><circle cx="582.5" cy="560.5" r="5.45" fill="#ff8000"/><circle cx="588.5" cy="546.5" r="9.8" fill="#fff"/><circle cx="588.5" cy="546.5" r="5.45" fill="#ff8000"/><circle cx="593.5" cy="559.5" r="9.8" fill="#fff"/><circle cx="593.5" cy="559.5" r="5.45" fill="#ff8000"/><circle cx="598.5" cy="541.5" r="9.8" fill="#fff"/><circle cx="598.5" cy="541.5" r="5.45" fill="#ff8000"/><circle cx="604.5" cy="668.5" r="9.8" fill="#fff"/><circle cx="604.5" cy="668.5" r="5.45" fill="#ff8000"/><circle cx="609.5" cy="614.5" r="9.8" fill="#fff"/><circle cx="609.5" cy="614.5" r="5.45" fill="#ff8000"/><circle cx="614.5" cy="612.5" r="9.8" fill="#fff"/><circle cx="614.5" cy="612.5" r="5.45" fill="#ff8000"/><circle cx="620.5" cy="549.5" r="9.8" fill="#fff"/><circle cx="620.5" cy="549.5" r="5.45" fill="#ff8000"/><circle cx="625.5" cy="594.5" r="9.8" fill="#fff"/><circle cx="625.5" cy="594.5" r="5.45" fill="#ff8000"/><circle cx="630.5" cy="616.5" r="9.8" fill="#fff"/><circle cx="630.5" cy="616.5" r="5.45" fill="#ff8000"/><circle cx="636.5" cy="620.5" r="9.8" fill="#fff"/><circle cx="636.5" cy="620.5" r="5.45" fill="#ff8000"/><circle cx="641.5" cy="584.5" r="9.8" fill="#fff"/><circle cx="641.5" cy="584.5" r="5.45" fill="#ff8000"/><circle cx="646.5" cy="564.5" r="9.8" fill="#fff"/><circle cx="646.5" cy="564.5" r="5.45" fill="#ff8000"/><circle cx="652.5" cy="549.5" r="9.8" fill="#fff"/><circle cx="652.5" cy="549.5" r="5.45" fill="#ff8000"/><circle cx="657.5" cy="492.5" r="9.8" fill="#fff"/><circle cx="657.5" cy="492.5" r="5.45" fill="#ff8000"/><circle cx="662.5" cy="619.5" r="9.8" fill="#fff"/><circle cx="662.5" cy="619.5" r="5.45" fill="#ff8000"/><circle cx="668.5" cy="569.5" r="9.8" fill="#fff"/><circle cx="668.5" cy="569.5" r="5.45" fill="#ff8000"/><circle cx="673.5" cy="524.5" r="9.8" fill="#fff"/><circle cx="673.5" cy="524.5" r="5.45" fill="#ff8000"/><circle cx="679.5" cy="659.5" r="9.8" fill="#fff"/><circle cx="679.5" cy="659.5" r="5.45" fill="#ff8000"/><circle cx="684.5" cy="596.5" r="9.8" fill="#fff"/><circle cx="684.5" cy="596.5" r="5.45" fill="#ff8000"/><circle cx="689.5" cy="685.5" r="9.8" fill="#fff"/><circle cx="689.5" cy="685.5" r="5.45" fill="#ff8000"/><circle cx="695.5" cy="651.5" r="9.8" fill="#fff"/><circle cx="695.5" cy="651.5" r="5.45" fill="#ff8000"/><circle cx="700.5" cy="570.5" r="9.8" fill="#fff"/><circle cx="700.5" cy="570.5" r="5.45" fill="#ff8000"/><circle cx="705.5" cy="535.5" r="9.8" fill="#fff"/><circle cx="705.5" cy="535.5" r="5.45" fill="#ff8000"/><circle cx="711.5" cy="492.5" r="9.8" fill="#fff"/><circle cx="711.5" cy="492.5" r="5.45" fill="#ff8000"/><circle cx="716.5" cy="588.5" r="9.8" fill="#fff"/><circle cx="716.5" cy="588.5" r="5.45" fill="#ff8000"/><circle cx="721.5" cy="621.5" r="9.8" fill="#fff"/><circle cx="721.5" cy="621.5" r="5.45" fill="#ff8000"/><circle cx="727.5" cy="623.5" r="9.8" fill="#fff"/><circle cx="727.5" cy="623.5" r="5.45" fill="#ff8000"/><circle cx="732.5" cy="697.5" r="9.8" fill="#fff"/><circle cx="732.5" cy="697.5" r="5.45" fill="#ff8000"/><circle cx="737.5" cy="660.5" r="9.8" fill="#fff"/><circle cx="737.5" cy="660.5" r="5.45" fill="#ff8000"/><circle cx="743.5" cy="544.5" r="9.8" fill="#fff"/><circle cx="743.5" cy="544.5" r="5.45" fill="#ff8000"/><circle cx="748.5" cy="564.5" r="9.8" fill="#fff"/><circle cx="748.5" cy="564.5" r="5.45" fill="#ff8000"/><circle cx="753.5" cy="601.5" r="9.8" fill="#fff"/><circle cx="753.5" cy="601.5" r="5.45" fill="#ff8000"/><circle cx="759.5" cy="559.5" r="9.8" fill="#fff"/><circle cx="759.5" cy="559.5" r="5.45" fill="#ff8000"/><circle cx="764.5" cy="569.5" r="9.8" fill="#fff"/><circle cx="764.5" cy="569.5" r="5.45" fill="#ff8000"/><circle cx="770.5" cy="569.5" r="9.8" fill="#fff"/><circle cx="770.5" cy="569.5" r="5.45" fill="#ff8000"/><circle cx="775.5" cy="573.5" r="9.8" fill="#fff"/><circle cx="775.5" cy="573.5" r="5.45" fill="#ff8000"/><circle cx="780.5" cy="500.5" r="9.8" fill="#fff"/><circle cx="780.5" cy="500.5" r="5.45" fill="#ff8000"/><circle cx="786.5" cy="612.5" r="9.8" fill="#fff"/><circle cx="786.5" cy="612.5" r="5.45" fill="#ff8000"/><circle cx="791.5" cy="620.5" r="9.8" fill="#fff"/><circle cx="791.5" cy="620.5" r="5.45" fill="#ff8000"/><circle cx="796.5" cy="657.5" r="9.8" fill="#fff"/><circle cx="796.5" cy="657.5" r="5.45" fill="#ff8000"/><circle cx="802.5" cy="696.5" r="9.8" fill="#fff"/><circle cx="802.5" cy="696.5" r="5.45" fill="#ff8000"/><circle cx="807.5" cy="561.5" r="9.8" fill="#fff"/><circle cx="807.5" cy="561.5" r="5.45" fill="#ff8000"/><circle cx="812.5" cy="558.5" r="9.8" fill="#fff"/><circle cx="812.5" cy="558.5" r="5.45" fill="#ff8000"/><circle cx="818.5" cy="627.5" r="9.8" fill="#fff"/><circle cx="818.5" cy="627.5" r="5.45" fill="#ff8000"/><circle cx="823.5" cy="684.5" r="9.8" fill="#fff"/><circle cx="823.5" cy="684.5" r="5.45" fill="#ff8000"/><circle cx="828.5" cy="584.5" r="9.8" fill="#fff"/><circle cx="828.5" cy="584.5" r="5.45" fill="#ff8000"/><circle cx="834.5" cy="541.5" r="9.8" fill="#fff"/><circle cx="834.5" cy="541.5" r="5.45" fill="#ff8000"/><circle cx="839.5" cy="627.5" r="9.8" fill="#fff"/><circle cx="839.5" cy="627.5" r="5.45" fill="#ff8000"/><circle cx="844.5" cy="556.5" r="9.8" fill="#fff"/><circle cx="844.5" cy="556.5" r="5.45" fill="#ff8000"/><circle cx="850.5" cy="582.5" r="9.8" fill="#fff"/><circle cx="850.5" cy="582.5" r="5.45" fill="#ff8000"/><circle cx="855.5" cy="648.5" r="9.8" fill="#fff"/><circle cx="855.5" cy="648.5" r="5.45" fill="#ff8000"/><circle cx="860.5" cy="572.5" r="9.8" fill="#fff"/><circle cx="860.5" cy="572.5" r="5.45" fill="#ff8000"/><circle cx="866.5" cy="548.5" r="9.8" fill="#fff"/><circle cx="866.5" cy="548.5" r="5.45" fill="#ff8000"/><circle cx="871.5" cy="625.5" r="9.8" fill="#fff"/><circle cx="871.5" cy="625.5" r="5.45" fill="#ff8000"/><circle cx="876.5" cy="604.5" r="9.8" fill="#fff"/><circle cx="876.5" cy="604.5" r="5.45" fill="#ff8000"/><circle cx="882.5" cy="655.5" r="9.8" fill="#fff"/><circle cx="882.5" cy="655.5" r="5.45" fill="#ff8000"/><circle cx="887.5" cy="591.5" r="9.8" fill="#fff"/><circle cx="887.5" cy="591.5" r="5.45" fill="#ff8000"/><circle cx="893.5" cy="648.5" r="9.8" fill="#fff"/><circle cx="893.5" cy="648.5" r="5.45" fill="#ff8000"/><circle cx="898.5" cy="583.5" r="9.8" fill="#fff"/><circle cx="898.5" cy="583.5" r="5.45" fill="#ff8000"/><circle cx="903.5" cy="646.5" r="9.8" fill="#fff"/><circle cx="903.5" cy="646.5" r="5.45" fill="#ff8000"/><circle cx="909.5" cy="559.5" r="9.8" fill="#fff"/><circle cx="909.5" cy="559.5" r="5.45" fill="#ff8000"/><circle cx="914.5" cy="577.5" r="9.8" fill="#fff"/><circle cx="914.5" cy="577.5" r="5.45" fill="#ff8000"/><circle cx="919.5" cy="603.5" r="9.8" fill="#fff"/><circle cx="919.5" cy="603.5" r="5.45" fill="#ff8000"/><circle cx="925.5" cy="553.5" r="9.8" fill="#fff"/><circle cx="925.5" cy="553.5" r="5.45" fill="#ff8000"/><circle cx="930.5" cy="573.5" r="9.8" fill="#fff"/><circle cx="930.5" cy="573.5" r="5.45" fill="#ff8000"/><circle cx="935.5" cy="566.5" r="9.8" fill="#fff"/><circle cx="935.5" cy="566.5" r="5.45" fill="#ff8000"/><circle cx="941.5" cy="677.5" r="9.8" fill="#fff"/><circle cx="941.5" cy="677.5" r="5.45" fill="#ff8000"/><circle cx="946.5" cy="527.5" r="9.8" fill="#fff"/><circle cx="946.5" cy="527.5" r="5.45" fill="#ff8000"/><circle cx="951.5" cy="563.5" r="9.8" fill="#fff"/><circle cx="951.5" cy="563.5" r="5.45" fill="#ff8000"/><circle cx="957.5" cy="600.5" r="9.8" fill="#fff"/><circle cx="957.5" cy="600.5" r="5.45" fill="#ff8000"/><circle cx="962.5" cy="539.5" r="9.8" fill="#fff"/><circle cx="962.5" cy="539.5" r="5.45" fill="#ff8000"/><circle cx="967.5" cy="307.5" r="9.8" fill="#fff"/><circle cx="967.5" cy="307.5" r="5.45" fill="#ff8000"/><circle cx="973.5" cy="471.5" r="9.8" fill="#fff"/><circle cx="973.5" cy="471.5" r="5.45" fill="#ff8000"/><circle cx="978.5" cy="487.5" r="9.8" fill="#fff"/><circle cx="978.5" cy="487.5" r="5.45" fill="#ff8000"/><circle cx="983.5" cy="613.5" r="9.8" fill="#fff"/><circle cx="983.5" cy="613.5" r="5.45" fill="#ff8000"/><circle cx="989.5" cy="622.5" r="9.8" fill="#fff"/><circle cx="989.5" cy="622.5" r="5.45" fill="#ff8000"/><circle cx="994.5" cy="495.5" r="9.8" fill="#fff"/><circle cx="994.5" cy="495.5" r="5.45" fill="#ff8000"/><circle cx="1000.5" cy="606.5" r="9.8" fill="#fff"/><circle cx="1000.5" cy="606.5" r="5.45" fill="#ff8000"/><circle cx="1005.5" cy="631.5" r="9.8" fill="#fff"/><circle cx="1005.5" cy="631.5" r="5.45" fill="#ff8000"/><circle cx="1010.5" cy="578.5" r="9.8" fill="#fff"/><circle cx="1010.5" cy="578.5" r="5.45" fill="#ff8000"/><circle cx="1016.5" cy="572.5" r="9.8" fill="#fff"/><circle cx="1016.5" cy="572.5" r="5.45" fill="#ff8000"/><circle cx="1021.5" cy="578.5" r="9.8" fill="#fff"/><circle cx="1021.5" cy="578.5" r="5.45" fill="#ff8000"/><circle cx="1026.5" cy="549.5" r="9.8" fill="#fff"/><circle cx="1026.5" cy="549.5" r="5.45" fill="#ff8000"/><circle cx="1032.5" cy="589.5" r="9.8" fill="#fff"/><circle cx="1032.5" cy="589.5" r="5.45" fill="#ff8000"/><circle cx="1037.5" cy="543.5" r="9.8" fill="#fff"/><circle cx="1037.5" cy="543.5" r="5.45" fill="#ff8000"/><circle cx="1042.5" cy="616.5" r="9.8" fill="#fff"/><circle cx="1042.5" cy="616.5" r="5.45" fill="#ff8000"/><circle cx="1048.5" cy="553.5" r="9.8" fill="#fff"/><circle cx="1048.5" cy="553.5" r="5.45" fill="#ff8000"/><circle cx="1053.5" cy="591.5" r="9.8" fill="#fff"/><circle cx="1053.5" cy="591.5" r="5.45" fill="#ff8000"/><circle cx="1058.5" cy="590.5" r="9.8" fill="#fff"/><circle cx="1058.5" cy="590.5" r="5.45" fill="#ff8000"/><circle cx="1064.5" cy="553.5" r="9.8" fill="#fff"/><circle cx="1064.5" cy="553.5" r="5.45" fill="#ff8000"/><circle cx="1069.5" cy="619.5" r="9.8" fill="#fff"/><circle cx="1069.5" cy="619.5" r="5.45" fill="#ff8000"/><circle cx="1074.5" cy="658.5" r="9.8" fill="#fff"/><circle cx="1074.5" cy="658.5" r="5.45" fill="#ff8000"/><circle cx="1080.5" cy="625.5" r="9.8" fill="#fff"/><circle cx="1080.5" cy="625.5" r="5.45" fill="#ff8000"/><circle cx="1085.5" cy="553.5" r="9.8" fill="#fff"/><circle cx="1085.5" cy="553.5" r="5.45" fill="#ff8000"/><circle cx="1090.5" cy="517.5" r="9.8" fill="#fff"/><circle cx="1090.5" cy="517.5" r="5.45" fill="#ff8000"/><circle cx="1096.5" cy="571.5" r="9.8" fill="#fff"/><circle cx="1096.5" cy="571.5" r="5.45" fill="#ff8000"/><circle cx="1101.5" cy="363.5" r="9.8" fill="#fff"/><circle cx="1101.5" cy="363.5" r="5.45" fill="#ff8000"/><circle cx="1106.5" cy="640.5" r="9.8" fill="#fff"/><circle cx="1106.5" cy="640.5" r="5.45" fill="#ff8000"/><circle cx="1112.5" cy="598.5" r="9.8" fill="#fff"/><circle cx="1112.5" cy="598.5" r="5.45" fill="#ff8000"/><circle cx="1117.5" cy="569.5" r="9.8" fill="#fff"/><circle cx="1117.5" cy="569.5" r="5.45" fill="#ff8000"/><circle cx="1123.5" cy="602.5" r="9.8" fill="#fff"/><circle cx="1123.5" cy="602.5" r="5.45" fill="#ff8000"/><circle cx="1128.5" cy="601.5" r="9.8" fill="#fff"/><circle cx="1128.5" cy="601.5" r="5.45" fill="#ff8000"/><circle cx="1133.5" cy="637.5" r="9.8" fill="#fff"/><circle cx="1133.5" cy="637.5" r="5.45" fill="#ff8000"/><circle cx="1139.5" cy="559.5" r="9.8" fill="#fff"/><circle cx="1139.5" cy="559.5" r="5.45" fill="#ff8000"/><circle cx="1144.5" cy="594.5" r="9.8" fill="#fff"/><circle cx="1144.5" cy="594.5" r="5.45" fill="#ff8000"/><circle cx="1149.5" cy="614.5" r="9.8" fill="#fff"/><circle cx="1149.5" cy="614.5" r="5.45" fill="#ff8000"/><circle cx="1155.5" cy="610.5" r="9.8" fill="#fff"/><circle cx="1155.5" cy="610.5" r="5.45" fill="#ff8000"/><circle cx="1160.5" cy="579.5" r="9.8" fill="#fff"/><circle cx="1160.5" cy="579.5" r="5.45" fill="#ff8000"/><circle cx="1165.5" cy="593.5" r="9.8" fill="#fff"/><circle cx="1165.5" cy="593.5" r="5.45" fill="#ff8000"/><polyline points="95.5,838.5 101.5,838.5 106.5,838.5 112.5,838.5 117.5,838.5 122.5,838.5 128.5,838.5 133.5,838.5 138.5,838.5 144.5,838.5 149.5,838.5 154.5,838.5 160.5,838.5 165.5,838.5 170.5,838.5 176.5,838.5 181.5,838.5 186.5,838.5 192.5,838.5 197.5,838.5 202.5,838.5 208.5,838.5 213.5,838.5 218.5,838.5 224.5,838.5 229.5,838.5 235.5,838.5 240.5,838.5 245.5,838.5 251.5,838.5 256.5,838.5 261.5,838.5 267.5,838.5 272.5,838.5 277.5,838.5 283.5,838.5 288.5,838.5 293.5,838.5 299.5,838.5 304.5,838.5 309.5,838.5 315.5,838.5 320.5,838.5 326.5,838.5 331.5,838.5 336.5,838.5 342.5,838.5 347.5,838.5 352.5,838.5 358.5,838.5 363.5,838.5 368.5,838.5 374.5,838.5 379.5,838.5 384.5,838.5 390.5,838.5 395.5,838.5 400.5,838.5 406.5,838.5 411.5,838.5 416.5,838.5 422.5,838.5 427.5,838.5 432.5,838.5 438.5,838.5 443.5,838.5 448.5,838.5 454.5,838.5 459.5,838.5 465.5,838.5 470.5,838.5 475.5,838.5 481.5,838.5 486.5,838.5 491.5,838.5 497.5,838.5 502.5,838.5 507.5,838.5 513.5,838.5 518.5,838.5 523.5,838.5 529.5,838.5 534.5,838.5 539.5,838.5 545.5,838.5 550.5,838.5 556.5,838.5 561.5,838.5 566.5,838.5 572.5,838.5 577.5,838.5 582.5,838.5 588.5,838.5 593.5,838.5 598.5,838.5 604.5,838.5 609.5,838.5 614.5,838.5 620.5,838.5 625.5,838.5 630.5,838.5 636.5,838.5 641.5,838.5 646.5,838.5 652.5,838.5 657.5,838.5 662.5,838.5 668.5,838.5 673.5,838.5 679.5,838.5 684.5,838.5 689.5,838.5 695.5,838.5 700.5,838.5 705.5,838.5 711.5,838.5 716.5,838.5 721.5,838.5 727.5,838.5 732.5,838.5 737.5,838.5 743.5,838.5 748.5,838.5 753.5,838.5 759.5,838.5 764.5,838.5 770.5,838.5 775.5,838.5 780.5,838.5 786.5,838.5 791.5,838.5 796.5,838.5 802.5,838.5 807.5,838.5 812.5,838.5 818.5,838.5 823.5,838.5 828.5,838.5 834.5,838.5 839.5,838.5 844.5,838.5 850.5,838.5 855.5,838.5 860.5,838.5 866.5,838.5 871.5,838.5 876.5,838.5 882.5,838.5 887.5,838.5 893.5,838.5 898.5,838.5 903.5,838.5 909.5,838.5 914.5,838.5 919.5,838.5 925.5,838.5 930.5,838.5 935.5,838.5 941.5,838.5 946.5,838.5 951.5,838.5 957.5,838.5 962.5,838.5 967.5,838.5 973.5,838.5 978.5,838.5 983.5,838.5 989.5,838.5 994.5,838.5 1000.5,838.5 1005.5,838.5 1010.5,838.5 1016.5,838.5 1021.5,838.5 1026.5,838.5 1032.5,838.5 1037.5,838.5 1042.5,838.5 1048.5,838.5 1053.5,838.5 1058.5,838.5 1064.5,838.5 1069.5,838.5 1074.5,838.5 1080.5,838.5 1085.5,838.5 1090.5,838.5 1096.5,838.5 1101.5,838.5 1106.5,838.5 1112.5,838.5 1117.5,838.5 1123.5,838.5 1128.5,838.5 1133.5,838.5 1139.5,838.5 1144.5,838.5 1149.5,838.5 1155.5,838.5 1160.5,838.5 1165.5,838.5" fill="none" stroke="#2ca02c" stroke-width="2" stroke-linejoin="round"/><circle cx="95.5" cy="838.5" r="9.8" fill="#fff"/><circle cx="95.5" cy="838.5" r="5.45" fill="#2ca02c"/><circle cx="101.5" cy="838.5" r="9.8" fill="#fff"/><circle cx="101.5" cy="838.5" r="5.45" fill="#2ca02c"/><circle cx="106.5" cy="838.5" r="9.8" fill="#fff"/><circle cx="106.5" cy="838.5" r="5.45" fill="#2ca02c"/><circle cx="112.5" cy="838.5" r="9.8" fill="#fff"/><circle cx="112.5" cy="838.5" r="5.45" fill="#2ca02c"/><circle cx="117.5" cy="838.5" r="9.8" fill="#fff"/><circle cx="117.5" cy="838.5" r="5.45" fill="#2ca02c"/><circle cx="122.5" cy="838.5" r="9.8" fill="#fff"/><circle cx="122.5" cy="838.5" r="5.45" fill="#2ca02c"/><circle cx="128.5" cy="838.5" r="9.8" fill="#fff"/><circle cx="128.5" cy="838.5" r="5.45" fill="#2ca02c"/><circle cx="133.5" cy="838.5" r="9.8" fill="#fff"/><circle cx="133.5" cy="838.5" r="5.45" fill="#2ca02c"/><circle cx="138.5" cy="838.5" r="9.8" fill="#fff"/><circle cx="138.5" cy="838.5" r="5.45" fill="#2ca02c"/><circle cx="144.5" cy="838.5" r="9.8" fill="#fff"/><circle cx="144.5" cy="838.5" r="5.45" fill="#2ca02c"/><circle cx="149.5" cy="838.5" r="9.8" fill="#fff"/><circle cx="149.5" cy="838.5" r="5.45" fill="#2ca02c"/><circle cx="154.5" cy="838.5" r="9.8" fill="#fff"/><circle cx="154.5" cy="838.5" r="5.45" fill="#2ca02c"/><circle cx="160.5" cy="838.5" r="9.8" fill="#fff"/><circle cx="160.5" cy="838.5" r="5.45" fill="#2ca02c"/><circle cx="165.5" cy="838.5" r="9.8" fill="#fff"/><circle cx="165.5" cy="838.5" r="5.45" fill="#2ca02c"/><circle cx="170.5" cy="838.5" r="9.8" fill="#fff"/><circle cx="170.5" cy="838.5" r="5.45" fill="#2ca02c"/><circle cx="176.5" cy="838.5" r="9.8" fill="#fff"/><circle cx="176.5" cy="838.5" r="5.45" fill="#2ca02c"/><circle cx="181.5" cy="838.5" r="9.8" fill="#fff"/><circle cx="181.5" cy="838.5" r="5.45" fill="#2ca02c"/><circle cx="186.5" cy="838.5" r="9.8" fill="#fff"/><circle cx="186.5" cy="838.5" r="5.45" fill="#2ca02c"/><circle cx="192.5" cy="838.5" r="9.8" fill="#fff"/><circle cx="192.5" cy="838.5" r="5.45" fill="#2ca02c"/><circle cx="197.5" cy="838.5" r="9.8" fill="#fff"/><circle cx="197.5" cy="838.5" r="5.45" fill="#2ca02c"/><circle cx="202.5" cy="838.5" r="9.8" fill="#fff"/><circle cx="202.5" cy="838.5" r="5.45" fill="#2ca02c"/><circle cx="208.5" cy="838.5" r="9.8" fill="#fff"/><circle cx="208.5" cy="838.5" r="5.45" fill="#2ca02c"/><circle cx="213.5" cy="838.5" r="9.8" fill="#fff"/><circle cx="213.5" cy="838.5" r="5.45" fill="#2ca02c"/><circle cx="218.5" cy="838.5" r="9.8" fill="#fff"/><circle cx="218.5" cy="838.5" r="5.45" fill="#2ca02c"/><circle cx="224.5" cy="838.5" r="9.8" fill="#fff"/><circle cx="224.5" cy="838.5" r="5.45" fill="#2ca02c"/><circle cx="229.5" cy="838.5" r="9.8" fill="#fff"/><circle cx="229.5" cy="838.5" r="5.45" fill="#2ca02c"/><circle cx="235.5" cy="838.5" r="9.8" fill="#fff"/><circle cx="235.5" cy="838.5" r="5.45" fill="#2ca02c"/><circle cx="240.5" cy="838.5" r="9.8" fill="#fff"/><circle cx="240.5" cy="838.5" r="5.45" fill="#2ca02c"/><circle cx="245.5" cy="838.5" r="9.8" fill="#fff"/><circle cx="245.5" cy="838.5" r="5.45" fill="#2ca02c"/><circle cx="251.5" cy="838.5" r="9.8" fill="#fff"/><circle cx="251.5" cy="838.5" r="5.45" fill="#2ca02c"/><circle cx="256.5" cy="838.5" r="9.8" fill="#fff"/><circle cx="256.5" cy="838.5" r="5.45" fill="#2ca02c"/><circle cx="261.5" cy="838.5" r="9.8" fill="#fff"/><circle cx="261.5" cy="838.5" r="5.45" fill="#2ca02c"/><circle cx="267.5" cy="838.5" r="9.8" fill="#fff"/><circle cx="267.5" cy="838.5" r="5.45" fill="#2ca02c"/><circle cx="272.5" cy="838.5" r="9.8" fill="#fff"/><circle cx="272.5" cy="838.5" r="5.45" fill="#2ca02c"/><circle cx="277.5" cy="838.5" r="9.8" fill="#fff"/><circle cx="277.5" cy="838.5" r="5.45" fill="#2ca02c"/><circle cx="283.5" cy="838.5" r="9.8" fill="#fff"/><circle cx="283.5" cy="838.5" r="5.45" fill="#2ca02c"/><circle cx="288.5" cy="838.5" r="9.8" fill="#fff"/><circle cx="288.5" cy="838.5" r="5.45" fill="#2ca02c"/><circle cx="293.5" cy="838.5" r="9.8" fill="#fff"/><circle cx="293.5" cy="838.5" r="5.45" fill="#2ca02c"/><circle cx="299.5" cy="838.5" r="9.8" fill="#fff"/><circle cx="299.5" cy="838.5" r="5.45" fill="#2ca02c"/><circle cx="304.5" cy="838.5" r="9.8" fill="#fff"/><circle cx="304.5" cy="838.5" r="5.45" fill="#2ca02c"/><circle cx="309.5" cy="838.5" r="9.8" fill="#fff"/><circle cx="309.5" cy="838.5" r="5.45" fill="#2ca02c"/><circle cx="315.5" cy="838.5" r="9.8" fill="#fff"/><circle cx="315.5" cy="838.5" r="5.45" fill="#2ca02c"/><circle cx="320.5" cy="838.5" r="9.8" fill="#fff"/><circle cx="320.5" cy="838.5" r="5.45" fill="#2ca02c"/><circle cx="326.5" cy="838.5" r="9.8" fill="#fff"/><circle cx="326.5" cy="838.5" r="5.45" fill="#2ca02c"/><circle cx="331.5" cy="838.5" r="9.8" fill="#fff"/><circle cx="331.5" cy="838.5" r="5.45" fill="#2ca02c"/><circle cx="336.5" cy="838.5" r="9.8" fill="#fff"/><circle cx="336.5" cy="838.5" r="5.45" fill="#2ca02c"/><circle cx="342.5" cy="838.5" r="9.8" fill="#fff"/><circle cx="342.5" cy="838.5" r="5.45" fill="#2ca02c"/><circle cx="347.5" cy="838.5" r="9.8" fill="#fff"/><circle cx="347.5" cy="838.5" r="5.45" fill="#2ca02c"/><circle cx="352.5" cy="838.5" r="9.8" fill="#fff"/><circle cx="352.5" cy="838.5" r="5.45" fill="#2ca02c"/><circle cx="358.5" cy="838.5" r="9.8" fill="#fff"/><circle cx="358.5" cy="838.5" r="5.45" fill="#2ca02c"/><circle cx="363.5" cy="838.5" r="9.8" fill="#fff"/><circle cx="363.5" cy="838.5" r="5.45" fill="#2ca02c"/><circle cx="368.5" cy="838.5" r="9.8" fill="#fff"/><circle cx="368.5" cy="838.5" r="5.45" fill="#2ca02c"/><circle cx="374.5" cy="838.5" r="9.8" fill="#fff"/><circle cx="374.5" cy="838.5" r="5.45" fill="#2ca02c"/><circle cx="379.5" cy="838.5" r="9.8" fill="#fff"/><circle cx="379.5" cy="838.5" r="5.45" fill="#2ca02c"/><circle cx="384.5" cy="838.5" r="9.8" fill="#fff"/><circle cx="384.5" cy="838.5" r="5.45" fill="#2ca02c"/><circle cx="390.5" cy="838.5" r="9.8" fill="#fff"/><circle cx="390.5" cy="838.5" r="5.45" fill="#2ca02c"/><circle cx="395.5" cy="838.5" r="9.8" fill="#fff"/><circle cx="395.5" cy="838.5" r="5.45" fill="#2ca02c"/><circle cx="400.5" cy="838.5" r="9.8" fill="#fff"/><circle cx="400.5" cy="838.5" r="5.45" fill="#2ca02c"/><circle cx="406.5" cy="838.5" r="9.8" fill="#fff"/><circle cx="406.5" cy="838.5" r="5.45" fill="#2ca02c"/><circle cx="411.5" cy="838.5" r="9.8" fill="#fff"/><circle cx="411.5" cy="838.5" r="5.45" fill="#2ca02c"/><circle cx="416.5" cy="838.5" r="9.8" fill="#fff"/><circle cx="416.5" cy="838.5" r="5.45" fill="#2ca02c"/><circle cx="422.5" cy="838.5" r="9.8" fill="#fff"/><circle cx="422.5" cy="838.5" r="5.45" fill="#2ca02c"/><circle cx="427.5" cy="838.5" r="9.8" fill="#fff"/><circle cx="427.5" cy="838.5" r="5.45" fill="#2ca02c"/><circle cx="432.5" cy="838.5" r="9.8" fill="#fff"/><circle cx="432.5" cy="838.5" r="5.45" fill="#2ca02c"/><circle cx="438.5" cy="838.5" r="9.8" fill="#fff"/><circle cx="438.5" cy="838.5" r="5.45" fill="#2ca02c"/><circle cx="443.5" cy="838.5" r="9.8" fill="#fff"/><circle cx="443.5" cy="838.5" r="5.45" fill="#2ca02c"/><circle cx="448.5" cy="838.5" r="9.8" fill="#fff"/><circle cx="448.5" cy="838.5" r="5.45" fill="#2ca02c"/><circle cx="454.5" cy="838.5" r="9.8" fill="#fff"/><circle cx="454.5" cy="838.5" r="5.45" fill="#2ca02c"/><circle cx="459.5" cy="838.5" r="9.8" fill="#fff"/><circle cx="459.5" cy="838.5" r="5.45" fill="#2ca02c"/><circle cx="465.5" cy="838.5" r="9.8" fill="#fff"/><circle cx="465.5" cy="838.5" r="5.45" fill="#2ca02c"/><circle cx="470.5" cy="838.5" r="9.8" fill="#fff"/><circle cx="470.5" cy="838.5" r="5.45" fill="#2ca02c"/><circle cx="475.5" cy="838.5" r="9.8" fill="#fff"/><circle cx="475.5" cy="838.5" r="5.45" fill="#2ca02c"/><circle cx="481.5" cy="838.5" r="9.8" fill="#fff"/><circle cx="481.5" cy="838.5" r="5.45" fill="#2ca02c"/><circle cx="486.5" cy="838.5" r="9.8" fill="#fff"/><circle cx="486.5" cy="838.5" r="5.45" fill="#2ca02c"/><circle cx="491.5" cy="838.5" r="9.8" fill="#fff"/><circle cx="491.5" cy="838.5" r="5.45" fill="#2ca02c"/><circle cx="497.5" cy="838.5" r="9.8" fill="#fff"/><circle cx="497.5" cy="838.5" r="5.45" fill="#2ca02c"/><circle cx="502.5" cy="838.5" r="9.8" fill="#fff"/><circle cx="502.5" cy="838.5" r="5.45" fill="#2ca02c"/><circle cx="507.5" cy="838.5" r="9.8" fill="#fff"/><circle cx="507.5" cy="838.5" r="5.45" fill="#2ca02c"/><circle cx="513.5" cy="838.5" r="9.8" fill="#fff"/><circle cx="513.5" cy="838.5" r="5.45" fill="#2ca02c"/><circle cx="518.5" cy="838.5" r="9.8" fill="#fff"/><circle cx="518.5" cy="838.5" r="5.45" fill="#2ca02c"/><circle cx="523.5" cy="838.5" r="9.8" fill="#fff"/><circle cx="523.5" cy="838.5" r="5.45" fill="#2ca02c"/><circle cx="529.5" cy="838.5" r="9.8" fill="#fff"/><circle cx="529.5" cy="838.5" r="5.45" fill="#2ca02c"/><circle cx="534.5" cy="838.5" r="9.8" fill="#fff"/><circle cx="534.5" cy="838.5" r="5.45" fill="#2ca02c"/><circle cx="539.5" cy="838.5" r="9.8" fill="#fff"/><circle cx="539.5" cy="838.5" r="5.45" fill="#2ca02c"/><circle cx="545.5" cy="838.5" r="9.8" fill="#fff"/><circle cx="545.5" cy="838.5" r="5.45" fill="#2ca02c"/><circle cx="550.5" cy="838.5" r="9.8" fill="#fff"/><circle cx="550.5" cy="838.5" r="5.45" fill="#2ca02c"/><circle cx="556.5" cy="838.5" r="9.8" fill="#fff"/><circle cx="556.5" cy="838.5" r="5.45" fill="#2ca02c"/><circle cx="561.5" cy="838.5" r="9.8" fill="#fff"/><circle cx="561.5" cy="838.5" r="5.45" fill="#2ca02c"/><circle cx="566.5" cy="838.5" r="9.8" fill="#fff"/><circle cx="566.5" cy="838.5" r="5.45" fill="#2ca02c"/><circle cx="572.5" cy="838.5" r="9.8" fill="#fff"/><circle cx="572.5" cy="838.5" r="5.45" fill="#2ca02c"/><circle cx="577.5" cy="838.5" r="9.8" fill="#fff"/><circle cx="577.5" cy="838.5" r="5.45" fill="#2ca02c"/><circle cx="582.5" cy="838.5" r="9.8" fill="#fff"/><circle cx="582.5" cy="838.5" r="5.45" fill="#2ca02c"/><circle cx="588.5" cy="838.5" r="9.8" fill="#fff"/><circle cx="588.5" cy="838.5" r="5.45" fill="#2ca02c"/><circle cx="593.5" cy="838.5" r="9.8" fill="#fff"/><circle cx="593.5" cy="838.5" r="5.45" fill="#2ca02c"/><circle cx="598.5" cy="838.5" r="9.8" fill="#fff"/><circle cx="598.5" cy="838.5" r="5.45" fill="#2ca02c"/><circle cx="604.5" cy="838.5" r="9.8" fill="#fff"/><circle cx="604.5" cy="838.5" r="5.45" fill="#2ca02c"/><circle cx="609.5" cy="838.5" r="9.8" fill="#fff"/><circle cx="609.5" cy="838.5" r="5.45" fill="#2ca02c"/><circle cx="614.5" cy="838.5" r="9.8" fill="#fff"/><circle cx="614.5" cy="838.5" r="5.45" fill="#2ca02c"/><circle cx="620.5" cy="838.5" r="9.8" fill="#fff"/><circle cx="620.5" cy="838.5" r="5.45" fill="#2ca02c"/><circle cx="625.5" cy="838.5" r="9.8" fill="#fff"/><circle cx="625.5" cy="838.5" r="5.45" fill="#2ca02c"/><circle cx="630.5" cy="838.5" r="9.8" fill="#fff"/><circle cx="630.5" cy="838.5" r="5.45" fill="#2ca02c"/><circle cx="636.5" cy="838.5" r="9.8" fill="#fff"/><circle cx="636.5" cy="838.5" r="5.45" fill="#2ca02c"/><circle cx="641.5" cy="838.5" r="9.8" fill="#fff"/><circle cx="641.5" cy="838.5" r="5.45" fill="#2ca02c"/><circle cx="646.5" cy="838.5" r="9.8" fill="#fff"/><circle cx="646.5" cy="838.5" r="5.45" fill="#2ca02c"/><circle cx="652.5" cy="838.5" r="9.8" fill="#fff"/><circle cx="652.5" cy="838.5" r="5.45" fill="#2ca02c"/><circle cx="657.5" cy="838.5" r="9.8" fill="#fff"/><circle cx="657.5" cy="838.5" r="5.45" fill="#2ca02c"/><circle cx="662.5" cy="838.5" r="9.8" fill="#fff"/><circle cx="662.5" cy="838.5" r="5.45" fill="#2ca02c"/><circle cx="668.5" cy="838.5" r="9.8" fill="#fff"/><circle cx="668.5" cy="838.5" r="5.45" fill="#2ca02c"/><circle cx="673.5" cy="838.5" r="9.8" fill="#fff"/><circle cx="673.5" cy="838.5" r="5.45" fill="#2ca02c"/><circle cx="679.5" cy="838.5" r="9.8" fill="#fff"/><circle cx="679.5" cy="838.5" r="5.45" fill="#2ca02c"/><circle cx="684.5" cy="838.5" r="9.8" fill="#fff"/><circle cx="684.5" cy="838.5" r="5.45" fill="#2ca02c"/><circle cx="689.5" cy="838.5" r="9.8" fill="#fff"/><circle cx="689.5" cy="838.5" r="5.45" fill="#2ca02c"/><circle cx="695.5" cy="838.5" r="9.8" fill="#fff"/><circle cx="695.5" cy="838.5" r="5.45" fill="#2ca02c"/><circle cx="700.5" cy="838.5" r="9.8" fill="#fff"/><circle cx="700.5" cy="838.5" r="5.45" fill="#2ca02c"/><circle cx="705.5" cy="838.5" r="9.8" fill="#fff"/><circle cx="705.5" cy="838.5" r="5.45" fill="#2ca02c"/><circle cx="711.5" cy="838.5" r="9.8" fill="#fff"/><circle cx="711.5" cy="838.5" r="5.45" fill="#2ca02c"/><circle cx="716.5" cy="838.5" r="9.8" fill="#fff"/><circle cx="716.5" cy="838.5" r="5.45" fill="#2ca02c"/><circle cx="721.5" cy="838.5" r="9.8" fill="#fff"/><circle cx="721.5" cy="838.5" r="5.45" fill="#2ca02c"/><circle cx="727.5" cy="838.5" r="9.8" fill="#fff"/><circle cx="727.5" cy="838.5" r="5.45" fill="#2ca02c"/><circle cx="732.5" cy="838.5" r="9.8" fill="#fff"/><circle cx="732.5" cy="838.5" r="5.45" fill="#2ca02c"/><circle cx="737.5" cy="838.5" r="9.8" fill="#fff"/><circle cx="737.5" cy="838.5" r="5.45" fill="#2ca02c"/><circle cx="743.5" cy="838.5" r="9.8" fill="#fff"/><circle cx="743.5" cy="838.5" r="5.45" fill="#2ca02c"/><circle cx="748.5" cy="838.5" r="9.8" fill="#fff"/><circle cx="748.5" cy="838.5" r="5.45" fill="#2ca02c"/><circle cx="753.5" cy="838.5" r="9.8" fill="#fff"/><circle cx="753.5" cy="838.5" r="5.45" fill="#2ca02c"/><circle cx="759.5" cy="838.5" r="9.8" fill="#fff"/><circle cx="759.5" cy="838.5" r="5.45" fill="#2ca02c"/><circle cx="764.5" cy="838.5" r="9.8" fill="#fff"/><circle cx="764.5" cy="838.5" r="5.45" fill="#2ca02c"/><circle cx="770.5" cy="838.5" r="9.8" fill="#fff"/><circle cx="770.5" cy="838.5" r="5.45" fill="#2ca02c"/><circle cx="775.5" cy="838.5" r="9.8" fill="#fff"/><circle cx="775.5" cy="838.5" r="5.45" fill="#2ca02c"/><circle cx="780.5" cy="838.5" r="9.8" fill="#fff"/><circle cx="780.5" cy="838.5" r="5.45" fill="#2ca02c"/><circle cx="786.5" cy="838.5" r="9.8" fill="#fff"/><circle cx="786.5" cy="838.5" r="5.45" fill="#2ca02c"/><circle cx="791.5" cy="838.5" r="9.8" fill="#fff"/><circle cx="791.5" cy="838.5" r="5.45" fill="#2ca02c"/><circle cx="796.5" cy="838.5" r="9.8" fill="#fff"/><circle cx="796.5" cy="838.5" r="5.45" fill="#2ca02c"/><circle cx="802.5" cy="838.5" r="9.8" fill="#fff"/><circle cx="802.5" cy="838.5" r="5.45" fill="#2ca02c"/><circle cx="807.5" cy="838.5" r="9.8" fill="#fff"/><circle cx="807.5" cy="838.5" r="5.45" fill="#2ca02c"/><circle cx="812.5" cy="838.5" r="9.8" fill="#fff"/><circle cx="812.5" cy="838.5" r="5.45" fill="#2ca02c"/><circle cx="818.5" cy="838.5" r="9.8" fill="#fff"/><circle cx="818.5" cy="838.5" r="5.45" fill="#2ca02c"/><circle cx="823.5" cy="838.5" r="9.8" fill="#fff"/><circle cx="823.5" cy="838.5" r="5.45" fill="#2ca02c"/><circle cx="828.5" cy="838.5" r="9.8" fill="#fff"/><circle cx="828.5" cy="838.5" r="5.45" fill="#2ca02c"/><circle cx="834.5" cy="838.5" r="9.8" fill="#fff"/><circle cx="834.5" cy="838.5" r="5.45" fill="#2ca02c"/><circle cx="839.5" cy="838.5" r="9.8" fill="#fff"/><circle cx="839.5" cy="838.5" r="5.45" fill="#2ca02c"/><circle cx="844.5" cy="838.5" r="9.8" fill="#fff"/><circle cx="844.5" cy="838.5" r="5.45" fill="#2ca02c"/><circle cx="850.5" cy="838.5" r="9.8" fill="#fff"/><circle cx="850.5" cy="838.5" r="5.45" fill="#2ca02c"/><circle cx="855.5" cy="838.5" r="9.8" fill="#fff"/><circle cx="855.5" cy="838.5" r="5.45" fill="#2ca02c"/><circle cx="860.5" cy="838.5" r="9.8" fill="#fff"/><circle cx="860.5" cy="838.5" r="5.45" fill="#2ca02c"/><circle cx="866.5" cy="838.5" r="9.8" fill="#fff"/><circle cx="866.5" cy="838.5" r="5.45" fill="#2ca02c"/><circle cx="871.5" cy="838.5" r="9.8" fill="#fff"/><circle cx="871.5" cy="838.5" r="5.45" fill="#2ca02c"/><circle cx="876.5" cy="838.5" r="9.8" fill="#fff"/><circle cx="876.5" cy="838.5" r="5.45" fill="#2ca02c"/><circle cx="882.5" cy="838.5" r="9.8" fill="#fff"/><circle cx="882.5" cy="838.5" r="5.45" fill="#2ca02c"/><circle cx="887.5" cy="838.5" r="9.8" fill="#fff"/><circle cx="887.5" cy="838.5" r="5.45" fill="#2ca02c"/><circle cx="893.5" cy="838.5" r="9.8" fill="#fff"/><circle cx="893.5" cy="838.5" r="5.45" fill="#2ca02c"/><circle cx="898.5" cy="838.5" r="9.8" fill="#fff"/><circle cx="898.5" cy="838.5" r="5.45" fill="#2ca02c"/><circle cx="903.5" cy="838.5" r="9.8" fill="#fff"/><circle cx="903.5" cy="838.5" r="5.45" fill="#2ca02c"/><circle cx="909.5" cy="838.5" r="9.8" fill="#fff"/><circle cx="909.5" cy="838.5" r="5.45" fill="#2ca02c"/><circle cx="914.5" cy="838.5" r="9.8" fill="#fff"/><circle cx="914.5" cy="838.5" r="5.45" fill="#2ca02c"/><circle cx="919.5" cy="838.5" r="9.8" fill="#fff"/><circle cx="919.5" cy="838.5" r="5.45" fill="#2ca02c"/><circle cx="925.5" cy="838.5" r="9.8" fill="#fff"/><circle cx="925.5" cy="838.5" r="5.45" fill="#2ca02c"/><circle cx="930.5" cy="838.5" r="9.8" fill="#fff"/><circle cx="930.5" cy="838.5" r="5.45" fill="#2ca02c"/><circle cx="935.5" cy="838.5" r="9.8" fill="#fff"/><circle cx="935.5" cy="838.5" r="5.45" fill="#2ca02c"/><circle cx="941.5" cy="838.5" r="9.8" fill="#fff"/><circle cx="941.5" cy="838.5" r="5.45" fill="#2ca02c"/><circle cx="946.5" cy="838.5" r="9.8" fill="#fff"/><circle cx="946.5" cy="838.5" r="5.45" fill="#2ca02c"/><circle cx="951.5" cy="838.5" r="9.8" fill="#fff"/><circle cx="951.5" cy="838.5" r="5.45" fill="#2ca02c"/><circle cx="957.5" cy="838.5" r="9.8" fill="#fff"/><circle cx="957.5" cy="838.5" r="5.45" fill="#2ca02c"/><circle cx="962.5" cy="838.5" r="9.8" fill="#fff"/><circle cx="962.5" cy="838.5" r="5.45" fill="#2ca02c"/><circle cx="967.5" cy="838.5" r="9.8" fill="#fff"/><circle cx="967.5" cy="838.5" r="5.45" fill="#2ca02c"/><circle cx="973.5" cy="838.5" r="9.8" fill="#fff"/><circle cx="973.5" cy="838.5" r="5.45" fill="#2ca02c"/><circle cx="978.5" cy="838.5" r="9.8" fill="#fff"/><circle cx="978.5" cy="838.5" r="5.45" fill="#2ca02c"/><circle cx="983.5" cy="838.5" r="9.8" fill="#fff"/><circle cx="983.5" cy="838.5" r="5.45" fill="#2ca02c"/><circle cx="989.5" cy="838.5" r="9.8" fill="#fff"/><circle cx="989.5" cy="838.5" r="5.45" fill="#2ca02c"/><circle cx="994.5" cy="838.5" r="9.8" fill="#fff"/><circle cx="994.5" cy="838.5" r="5.45" fill="#2ca02c"/><circle cx="1000.5" cy="838.5" r="9.8" fill="#fff"/><circle cx="1000.5" cy="838.5" r="5.45" fill="#2ca02c"/><circle cx="1005.5" cy="838.5" r="9.8" fill="#fff"/><circle cx="1005.5" cy="838.5" r="5.45" fill="#2ca02c"/><circle cx="1010.5" cy="838.5" r="9.8" fill="#fff"/><circle cx="1010.5" cy="838.5" r="5.45" fill="#2ca02c"/><circle cx="1016.5" cy="838.5" r="9.8" fill="#fff"/><circle cx="1016.5" cy="838.5" r="5.45" fill="#2ca02c"/><circle cx="1021.5" cy="838.5" r="9.8" fill="#fff"/><circle cx="1021.5" cy="838.5" r="5.45" fill="#2ca02c"/><circle cx="1026.5" cy="838.5" r="9.8" fill="#fff"/><circle cx="1026.5" cy="838.5" r="5.45" fill="#2ca02c"/><circle cx="1032.5" cy="838.5" r="9.8" fill="#fff"/><circle cx="1032.5" cy="838.5" r="5.45" fill="#2ca02c"/><circle cx="1037.5" cy="838.5" r="9.8" fill="#fff"/><circle cx="1037.5" cy="838.5" r="5.45" fill="#2ca02c"/><circle cx="1042.5" cy="838.5" r="9.8" fill="#fff"/><circle cx="1042.5" cy="838.5" r="5.45" fill="#2ca02c"/><circle cx="1048.5" cy="838.5" r="9.8" fill="#fff"/><circle cx="1048.5" cy="838.5" r="5.45" fill="#2ca02c"/><circle cx="1053.5" cy="838.5" r="9.8" fill="#fff"/><circle cx="1053.5" cy="838.5" r="5.45" fill="#2ca02c"/><circle cx="1058.5" cy="838.5" r="9.8" fill="#fff"/><circle cx="1058.5" cy="838.5" r="5.45" fill="#2ca02c"/><circle cx="1064.5" cy="838.5" r="9.8" fill="#fff"/><circle cx="1064.5" cy="838.5" r="5.45" fill="#2ca02c"/><circle cx="1069.5" cy="838.5" r="9.8" fill="#fff"/><circle cx="1069.5" cy="838.5" r="5.45" fill="#2ca02c"/><circle cx="1074.5" cy="838.5" r="9.8" fill="#fff"/><circle cx="1074.5" cy="838.5" r="5.45" fill="#2ca02c"/><circle cx="1080.5" cy="838.5" r="9.8" fill="#fff"/><circle cx="1080.5" cy="838.5" r="5.45" fill="#2ca02c"/><circle cx="1085.5" cy="838.5" r="9.8" fill="#fff"/><circle cx="1085.5" cy="838.5" r="5.45" fill="#2ca02c"/><circle cx="1090.5" cy="838.5" r="9.8" fill="#fff"/><circle cx="1090.5" cy="838.5" r="5.45" fill="#2ca02c"/><circle cx="1096.5" cy="838.5" r="9.8" fill="#fff"/><circle cx="1096.5" cy="838.5" r="5.45" fill="#2ca02c"/><circle cx="1101.5" cy="838.5" r="9.8" fill="#fff"/><circle cx="1101.5" cy="838.5" r="5.45" fill="#2ca02c"/><circle cx="1106.5" cy="838.5" r="9.8" fill="#fff"/><circle cx="1106.5" cy="838.5" r="5.45" fill="#2ca02c"/><circle cx="1112.5" cy="838.5" r="9.8" fill="#fff"/><circle cx="1112.5" cy="838.5" r="5.45" fill="#2ca02c"/><circle cx="1117.5" cy="838.5" r="9.8" fill="#fff"/><circle cx="1117.5" cy="838.5" r="5.45" fill="#2ca02c"/><circle cx="1123.5" cy="838.5" r="9.8" fill="#fff"/><circle cx="1123.5" cy="838.5" r="5.45" fill="#2ca02c"/><circle cx="1128.5" cy="838.5" r="9.8" fill="#fff"/><circle cx="1128.5" cy="838.5" r="5.45" fill="#2ca02c"/><circle cx="1133.5" cy="838.5" r="9.8" fill="#fff"/><circle cx="1133.5" cy="838.5" r="5.45" fill="#2ca02c"/><circle cx="1139.5" cy="838.5" r="9.8" fill="#fff"/><circle cx="1139.5" cy="838.5" r="5.45" fill="#2ca02c"/><circle cx="1144.5" cy="838.5" r="9.8" fill="#fff"/><circle cx="1144.5" cy="838.5" r="5.45" fill="#2ca02c"/><circle cx="1149.5" cy="838.5" r="9.8" fill="#fff"/><circle cx="1149.5" cy="838.5" r="5.45" fill="#2ca02c"/><circle cx="1155.5" cy="838.5" r="9.8" fill="#fff"/><circle cx="1155.5" cy="838.5" r="5.45" fill="#2ca02c"/><circle cx="1160.5" cy="838.5" r="9.8" fill="#fff"/><circle cx="1160.5" cy="838.5" r="5.45" fill="#2ca02c"/><circle cx="1165.5" cy="838.5" r="9.8" fill="#fff"/><circle cx="1165.5" cy="838.5" r="5.45" fill="#2ca02c"/><path d="M95.5 57.5V838.5H1165.5" stroke="#000" stroke-width="1" fill="none"/><g font-family="Liberation Sans, sans-serif" font-size="16" fill="#000"><text x="86.0" y="844.1" text-anchor="end" textLength="10.19" lengthAdjust="spacingAndGlyphs">0</text><text x="86.0" y="732.53" text-anchor="end" textLength="30.56" lengthAdjust="spacingAndGlyphs">200</text><text x="86.0" y="620.96" text-anchor="end" textLength="30.56" lengthAdjust="spacingAndGlyphs">400</text><text x="86.0" y="509.39" text-anchor="end" textLength="30.56" lengthAdjust="spacingAndGlyphs">600</text><text x="86.0" y="397.81" text-anchor="end" textLength="30.56" lengthAdjust="spacingAndGlyphs">800</text><text x="86.0" y="286.24" text-anchor="end" textLength="40.75" lengthAdjust="spacingAndGlyphs">1000</text><text x="86.0" y="174.67" text-anchor="end" textLength="40.75" lengthAdjust="spacingAndGlyphs">1200</text><text x="86.0" y="63.1" text-anchor="end" textLength="40.75" lengthAdjust="spacingAndGlyphs">1400</text><text x="98.2" y="864" text-anchor="middle" textLength="10.19" lengthAdjust="spacingAndGlyphs">0</text><text x="365.7" y="864" text-anchor="middle" textLength="20.38" lengthAdjust="spacingAndGlyphs">50</text><text x="633.2" y="864" text-anchor="middle" textLength="30.56" lengthAdjust="spacingAndGlyphs">100</text><text x="900.7" y="864" text-anchor="middle" textLength="30.56" lengthAdjust="spacingAndGlyphs">150</text><text x="1168.2" y="864" text-anchor="middle" textLength="30.56" lengthAdjust="spacingAndGlyphs">200</text><text x="630.5" y="892" text-anchor="middle" textLength="65.1" lengthAdjust="spacingAndGlyphs">Time (s)</text><text transform="translate(24,448) rotate(-90)" x="0" y="0" text-anchor="middle" textLength="60.7" lengthAdjust="spacingAndGlyphs">Packets</text><text x="-2.4" y="34.9" textLength="395.9" lengthAdjust="spacingAndGlyphs">ht/corpus/julyreruns/tiered/wireguard/experiment</text><text x="393.5" y="38.7" font-size="12.8" textLength="8.14" lengthAdjust="spacingAndGlyphs">3</text><text x="401.64" y="34.9" textLength="41.84" lengthAdjust="spacingAndGlyphs">/eth1</text><text x="443.48" y="38.7" font-size="12.8" textLength="3.56" lengthAdjust="spacingAndGlyphs">i</text><text x="447.04" y="34.9" textLength="755.27" lengthAdjust="spacingAndGlyphs">nterface/ptp/exp-b-1080-dash-http1/1659068843-c0.wgptp.tiered.pharos-wireguardptp-b-vide</text><text x="1086.5" y="79.95" text-anchor="end" textLength="29.67" lengthAdjust="spacingAndGlyphs" xml:space="preserve">TCP</text><path d="M1097.5 74.5H1145.5" stroke="#0060ad" stroke-width="2"/><circle cx="1121.5" cy="74.5" r="9.8" fill="#fff"/><circle cx="1121.5" cy="74.5" r="5.45" fill="#0060ad"/><text x="1086.5" y="98.95" text-anchor="end" textLength="33.7" lengthAdjust="spacingAndGlyphs" xml:space="preserve">UDP</text><path d="M1097.5 93.5H1145.5" stroke="#ff8000" stroke-width="2"/><circle cx="1121.5" cy="93.5" r="9.8" fill="#fff"/><circle cx="1121.5" cy="93.5" r="5.45" fill="#ff8000"/><text x="1086.5" y="117.95" text-anchor="end" textLength="118.4" lengthAdjust="spacingAndGlyphs" xml:space="preserve">IP (!TCP  !UDP)</text><path d="M1097.5 112.5H1145.5" stroke="#2ca02c" stroke-width="2"/><circle cx="1121.5" cy="112.5" r="9.8" fill="#fff"/><circle cx="1121.5" cy="112.5" r="5.45" fill="#2ca02c"/></g></svg></body></html>
